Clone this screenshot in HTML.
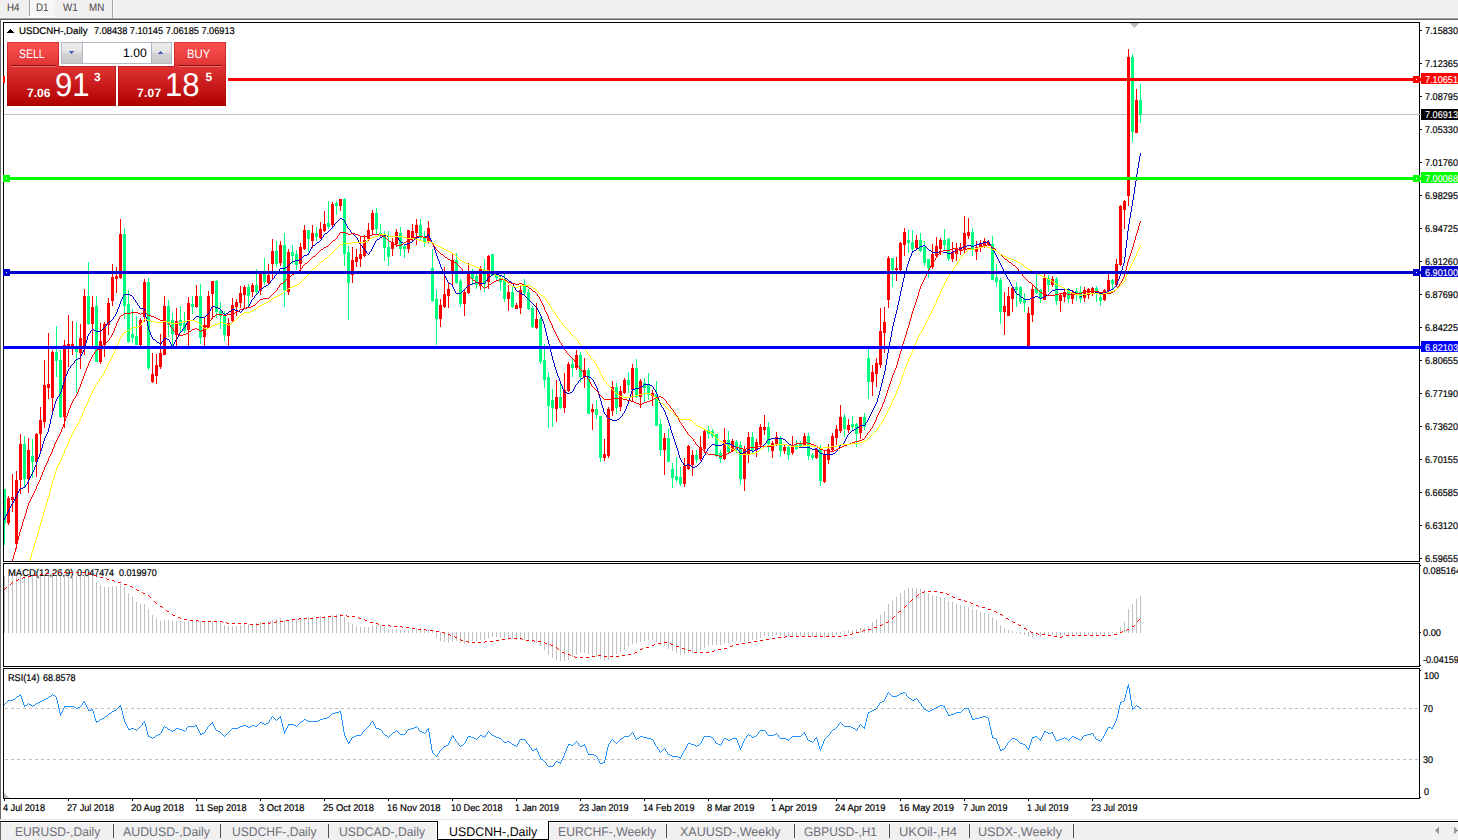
<!DOCTYPE html>
<html><head><meta charset="utf-8"><title>USDCNH-,Daily</title>
<style>
html,body{margin:0;padding:0}
body{width:1458px;height:840px;overflow:hidden;background:#fff;position:relative;font-family:"Liberation Sans",sans-serif}
.t{position:absolute;white-space:nowrap;line-height:13px;height:13px;font-family:"Liberation Sans",sans-serif;transform-origin:0 0;text-rendering:geometricPrecision}
.abs{position:absolute}
</style></head><body>

<div class="abs" style="left:0;top:0;width:1458px;height:17px;background:#f0f0f0"></div>
<div class="abs" style="left:0;top:17px;width:1458px;height:1px;background:#f6f6f6"></div>
<div class="abs" style="left:0;top:18px;width:1458px;height:1px;background:#a0a0a0"></div>
<div class="abs" style="left:0;top:19px;width:1458px;height:1px;background:#696969"></div>
<div class="abs" style="left:0;top:20px;width:1px;height:799px;background:#696969"></div>
<div class="abs" style="left:30px;top:0;width:24px;height:16px;background:repeating-conic-gradient(#fff 0% 25%,#f0f0f0 0% 50%) 0 0/2px 2px"></div>
<div class="abs" style="left:29px;top:16px;width:26px;height:1px;background:#fff"></div>
<div class="abs" style="left:29px;top:0;width:1px;height:16px;background:#a0a0a0"></div>
<div class="abs" style="left:112px;top:0;width:1px;height:18px;background:#a0a0a0"></div>
<div class="abs" style="left:113px;top:0;width:1px;height:17px;background:#fff"></div>
<div class="t" style="left:7px;top:1.5px;font-size:11px;color:#444;transform:scaleX(0.89)">H4</div>
<div class="t" style="left:36px;top:1.5px;font-size:11px;color:#444;transform:scaleX(0.89)">D1</div>
<div class="t" style="left:63px;top:1.5px;font-size:11px;color:#444;transform:scaleX(0.89)">W1</div>
<div class="t" style="left:89px;top:1.5px;font-size:11px;color:#444;transform:scaleX(0.89)">MN</div>

<div class="t" style="left:8px;top:567px;font-size:9.8px;color:#000;font-weight:400;-webkit-text-stroke:0.2px #000;transform:scaleX(0.9624);">MACD(12,26,9)</div>
<div class="t" style="left:77.2px;top:567px;font-size:9.8px;color:#000;font-weight:400;-webkit-text-stroke:0.2px #000;transform:scaleX(0.9052);">0.047474</div>
<div class="t" style="left:118.5px;top:567px;font-size:9.8px;color:#000;font-weight:400;-webkit-text-stroke:0.2px #000;transform:scaleX(0.9223);">0.019970</div>
<svg width="1458" height="840" viewBox="0 0 1458 840" shape-rendering="crispEdges" style="position:absolute;left:0;top:0">
<defs><clipPath id="cm"><rect x="4" y="23" width="1415" height="538"/></clipPath><clipPath id="cd"><rect x="4" y="564" width="1415" height="102"/></clipPath></defs>
<rect x="4" y="114" width="1415" height="1" fill="#c0c0c0"/>
<path d="M4 489h1v56h-1zM4 489h2v34h-2zM24 436h1v52h-1zM23 444h3v35h-3zM32 439h1v39h-1zM31 456h3v6h-3zM56 326h1v51h-1zM55 352h3v9h-3zM60 350h1v68h-1zM59 360h3v57h-3zM76 322h1v71h-1zM75 348h3v4h-3zM88 262h1v63h-1zM87 296h3v28h-3zM96 296h1v66h-1zM95 306h3v56h-3zM124 228h1v91h-1zM123 234h3v72h-3zM128 290h1v53h-1zM127 304h3v38h-3zM132 309h1v34h-1zM131 334h3v4h-3zM136 316h1v29h-1zM135 336h3v9h-3zM148 278h1v92h-1zM147 282h3v86h-3zM168 300h1v37h-1zM167 306h3v19h-3zM172 313h1v34h-1zM171 320h3v14h-3zM180 306h1v26h-1zM179 320h3v6h-3zM184 312h1v21h-1zM183 323h3v8h-3zM192 296h1v18h-1zM191 304h3v3h-3zM200 284h1v60h-1zM199 296h3v42h-3zM216 280h1v38h-1zM215 281h3v31h-3zM220 302h1v27h-1zM219 311h3v5h-3zM224 311h1v30h-1zM223 315h3v20h-3zM248 284h1v22h-1zM247 287h3v9h-3zM256 269h1v26h-1zM255 285h3v7h-3zM264 258h1v27h-1zM263 274h3v8h-3zM276 241h1v26h-1zM275 251h3v13h-3zM284 233h1v74h-1zM283 245h3v45h-3zM292 245h1v19h-1zM291 252h3v4h-3zM296 250h1v20h-1zM295 254h3v11h-3zM308 230h1v22h-1zM307 230h3v9h-3zM316 227h1v14h-1zM315 233h3v4h-3zM328 201h1v28h-1zM327 223h3v4h-3zM336 201h1v14h-1zM335 203h3v3h-3zM344 198h1v68h-1zM343 199h3v55h-3zM348 246h1v74h-1zM347 252h3v31h-3zM376 208h1v26h-1zM375 213h3v16h-3zM380 224h1v14h-1zM379 233h3v3h-3zM384 231h1v30h-1zM383 235h3v13h-3zM388 231h1v35h-1zM387 247h3v10h-3zM400 227h1v29h-1zM399 233h3v16h-3zM404 244h1v14h-1zM403 246h3v3h-3zM420 219h1v22h-1zM419 225h3v13h-3zM424 231h1v16h-1zM423 237h3v5h-3zM432 249h1v53h-1zM431 268h3v33h-3zM436 290h1v55h-1zM435 299h3v20h-3zM456 253h1v31h-1zM455 260h3v23h-3zM460 279h1v28h-1zM459 281h3v23h-3zM472 269h1v16h-1zM471 274h3v5h-3zM476 274h1v15h-1zM475 276h3v9h-3zM484 259h1v33h-1zM483 270h3v14h-3zM492 254h1v22h-1zM491 254h3v21h-3zM496 273h1v7h-1zM495 274h3v4h-3zM500 276h1v15h-1zM499 278h3v4h-3zM504 274h1v28h-1zM503 279h3v20h-3zM512 286h1v22h-1zM511 292h3v15h-3zM524 279h1v16h-1zM523 284h3v9h-3zM528 289h1v21h-1zM527 292h3v17h-3zM532 306h1v22h-1zM531 308h3v19h-3zM540 317h1v47h-1zM539 319h3v43h-3zM544 344h1v44h-1zM543 360h3v20h-3zM548 372h1v56h-1zM547 377h3v29h-3zM552 389h1v38h-1zM551 400h3v8h-3zM560 384h1v25h-1zM559 397h3v11h-3zM572 359h1v18h-1zM571 364h3v4h-3zM580 352h1v30h-1zM579 355h3v22h-3zM588 368h1v46h-1zM587 370h3v44h-3zM596 400h1v19h-1zM595 409h3v6h-3zM600 416h1v46h-1zM599 416h3v42h-3zM616 383h1v31h-1zM615 387h3v21h-3zM628 372h1v21h-1zM627 380h3v5h-3zM636 359h1v39h-1zM635 368h3v29h-3zM644 378h1v25h-1zM643 383h3v5h-3zM648 373h1v27h-1zM647 384h3v11h-3zM656 381h1v45h-1zM655 394h3v32h-3zM660 419h1v37h-1zM659 424h3v26h-3zM668 429h1v33h-1zM667 438h3v24h-3zM672 463h1v25h-1zM671 469h3v9h-3zM676 457h1v25h-1zM675 476h3v4h-3zM680 467h1v19h-1zM679 477h3v7h-3zM696 450h1v13h-1zM695 455h3v5h-3zM708 426h1v13h-1zM707 430h3v4h-3zM712 429h1v9h-1zM711 431h3v5h-3zM716 434h1v23h-1zM715 434h3v21h-3zM720 450h1v13h-1zM719 453h3v6h-3zM728 431h1v23h-1zM727 440h3v12h-3zM736 440h1v13h-1zM735 442h3v7h-3zM740 441h1v44h-1zM739 445h3v34h-3zM752 432h1v21h-1zM751 437h3v13h-3zM768 422h1v30h-1zM767 427h3v17h-3zM780 436h1v21h-1zM779 438h3v13h-3zM788 446h1v14h-1zM787 447h3v8h-3zM796 440h1v10h-1zM795 445h3v4h-3zM800 441h1v7h-1zM799 444h3v3h-3zM808 433h1v27h-1zM807 436h3v20h-3zM812 453h1v7h-1zM811 455h3v3h-3zM820 445h1v41h-1zM819 448h3v33h-3zM844 414h1v23h-1zM843 417h3v12h-3zM852 416h1v14h-1zM851 424h3v3h-3zM856 423h1v24h-1zM855 424h3v10h-3zM864 413h1v17h-1zM863 417h3v10h-3zM868 349h1v50h-1zM867 358h3v24h-3zM892 258h1v29h-1zM891 258h3v12h-3zM908 230h1v23h-1zM907 240h3v3h-3zM912 230h1v21h-1zM911 242h3v7h-3zM920 233h1v19h-1zM919 240h3v11h-3zM924 241h1v25h-1zM923 247h3v16h-3zM928 259h1v19h-1zM927 259h3v9h-3zM944 229h1v22h-1zM943 240h3v5h-3zM948 238h1v23h-1zM947 239h3v20h-3zM972 228h1v28h-1zM971 232h3v18h-3zM992 236h1v44h-1zM991 244h3v36h-3zM996 264h1v23h-1zM995 277h3v5h-3zM1000 278h1v46h-1zM999 280h3v32h-3zM1016 282h1v25h-1zM1015 287h3v3h-3zM1020 286h1v18h-1zM1019 287h3v15h-3zM1024 293h1v19h-1zM1023 299h3v4h-3zM1036 274h1v20h-1zM1035 288h3v5h-3zM1040 289h1v14h-1zM1039 290h3v9h-3zM1048 275h1v17h-1zM1047 278h3v7h-3zM1056 277h1v28h-1zM1055 279h3v22h-3zM1068 288h1v15h-1zM1067 290h3v9h-3zM1076 288h1v13h-1zM1075 291h3v4h-3zM1080 286h1v17h-1zM1079 292h3v7h-3zM1096 286h1v16h-1zM1095 288h3v6h-3zM1100 294h1v12h-1zM1099 297h3v4h-3zM1112 279h1v10h-1zM1111 280h3v4h-3zM1132 54h1v88h-1zM1131 57h3v75h-3zM1140 84h1v39h-1zM1139 100h3v15h-3z" fill="#00ff7f"/>
<path d="M8 496h1v29h-1zM7 498h3v25h-3zM12 474h1v38h-1zM11 497h3v3h-3zM16 471h1v78h-1zM15 480h3v64h-3zM20 434h1v60h-1zM19 444h3v36h-3zM28 438h1v55h-1zM27 450h3v29h-3zM36 433h1v44h-1zM35 434h3v28h-3zM40 407h1v46h-1zM39 420h3v14h-3zM44 360h1v68h-1zM43 385h3v37h-3zM48 333h1v66h-1zM47 384h3v4h-3zM52 350h1v61h-1zM51 352h3v46h-3zM64 340h1v88h-1zM63 345h3v72h-3zM68 315h1v52h-1zM67 344h3v5h-3zM72 321h1v34h-1zM71 344h3v5h-3zM80 324h1v45h-1zM79 338h3v15h-3zM84 289h1v66h-1zM83 296h3v53h-3zM92 296h1v51h-1zM91 307h3v17h-3zM100 323h1v41h-1zM99 341h3v21h-3zM104 322h1v35h-1zM103 324h3v21h-3zM108 298h1v37h-1zM107 303h3v22h-3zM112 264h1v42h-1zM111 277h3v24h-3zM116 267h1v26h-1zM115 276h3v3h-3zM120 219h1v60h-1zM119 234h3v44h-3zM140 318h1v28h-1zM139 320h3v25h-3zM144 279h1v43h-1zM143 282h3v35h-3zM152 353h1v30h-1zM151 374h3v8h-3zM156 354h1v30h-1zM155 365h3v11h-3zM160 334h1v35h-1zM159 353h3v14h-3zM164 296h1v59h-1zM163 306h3v49h-3zM176 308h1v39h-1zM175 321h3v14h-3zM188 297h1v49h-1zM187 303h3v27h-3zM196 285h1v23h-1zM195 296h3v11h-3zM204 318h1v29h-1zM203 325h3v12h-3zM208 291h1v38h-1zM207 296h3v32h-3zM212 281h1v38h-1zM211 281h3v13h-3zM228 318h1v29h-1zM227 323h3v13h-3zM232 298h1v25h-1zM231 305h3v16h-3zM236 299h1v17h-1zM235 302h3v5h-3zM240 286h1v22h-1zM239 293h3v10h-3zM244 285h1v23h-1zM243 287h3v8h-3zM252 283h1v14h-1zM251 285h3v7h-3zM260 272h1v23h-1zM259 273h3v18h-3zM268 264h1v21h-1zM267 275h3v8h-3zM272 239h1v41h-1zM271 251h3v13h-3zM280 241h1v25h-1zM279 245h3v18h-3zM288 249h1v46h-1zM287 252h3v40h-3zM300 243h1v28h-1zM299 247h3v17h-3zM304 225h1v25h-1zM303 230h3v19h-3zM312 225h1v23h-1zM311 233h3v8h-3zM320 222h1v17h-1zM319 229h3v9h-3zM324 211h1v21h-1zM323 224h3v7h-3zM332 202h1v25h-1zM331 204h3v21h-3zM340 199h1v12h-1zM339 199h3v7h-3zM352 247h1v36h-1zM351 260h3v15h-3zM356 249h1v18h-1zM355 257h3v5h-3zM360 237h1v30h-1zM359 254h3v5h-3zM364 235h1v22h-1zM363 240h3v16h-3zM368 223h1v18h-1zM367 230h3v9h-3zM372 210h1v24h-1zM371 213h3v17h-3zM392 238h1v18h-1zM391 242h3v7h-3zM396 229h1v18h-1zM395 232h3v12h-3zM408 230h1v23h-1zM407 230h3v19h-3zM412 224h1v17h-1zM411 231h3v7h-3zM416 219h1v26h-1zM415 225h3v8h-3zM428 221h1v22h-1zM427 228h3v14h-3zM440 299h1v28h-1zM439 305h3v14h-3zM444 267h1v41h-1zM443 294h3v13h-3zM448 283h1v25h-1zM447 289h3v7h-3zM452 254h1v31h-1zM451 260h3v13h-3zM464 290h1v26h-1zM463 292h3v12h-3zM468 263h1v31h-1zM467 274h3v19h-3zM480 266h1v24h-1zM479 269h3v17h-3zM488 255h1v34h-1zM487 256h3v26h-3zM508 285h1v26h-1zM507 292h3v7h-3zM516 303h1v6h-1zM515 305h3v4h-3zM520 285h1v29h-1zM519 290h3v18h-3zM536 303h1v26h-1zM535 319h3v9h-3zM556 380h1v42h-1zM555 397h3v12h-3zM564 373h1v40h-1zM563 390h3v18h-3zM568 362h1v30h-1zM567 364h3v27h-3zM576 350h1v20h-1zM575 355h3v13h-3zM584 358h1v30h-1zM583 370h3v7h-3zM592 404h1v26h-1zM591 409h3v3h-3zM604 439h1v22h-1zM603 454h3v4h-3zM608 407h1v51h-1zM607 409h3v47h-3zM612 381h1v35h-1zM611 387h3v24h-3zM620 386h1v25h-1zM619 391h3v16h-3zM624 378h1v16h-1zM623 380h3v13h-3zM632 364h1v38h-1zM631 368h3v22h-3zM640 379h1v29h-1zM639 381h3v16h-3zM652 390h1v16h-1zM651 393h3v3h-3zM664 433h1v42h-1zM663 438h3v12h-3zM684 458h1v29h-1zM683 466h3v18h-3zM688 445h1v25h-1zM687 446h3v23h-3zM692 450h1v26h-1zM691 455h3v10h-3zM700 436h1v25h-1zM699 447h3v12h-3zM704 429h1v24h-1zM703 431h3v18h-3zM724 428h1v32h-1zM723 440h3v19h-3zM732 439h1v13h-1zM731 441h3v10h-3zM744 446h1v45h-1zM743 450h3v29h-3zM748 432h1v31h-1zM747 437h3v17h-3zM756 439h1v18h-1zM755 442h3v8h-3zM760 424h1v23h-1zM759 427h3v18h-3zM764 415h1v20h-1zM763 427h3v3h-3zM772 441h1v17h-1zM771 443h3v8h-3zM776 432h1v14h-1zM775 437h3v8h-3zM784 444h1v10h-1zM783 447h3v4h-3zM792 436h1v19h-1zM791 446h3v7h-3zM804 433h1v13h-1zM803 436h3v9h-3zM816 448h1v11h-1zM815 449h3v9h-3zM824 450h1v33h-1zM823 455h3v27h-3zM828 444h1v20h-1zM827 449h3v11h-3zM832 433h1v19h-1zM831 436h3v14h-3zM836 425h1v20h-1zM835 429h3v9h-3zM840 405h1v28h-1zM839 417h3v14h-3zM848 419h1v14h-1zM847 425h3v5h-3zM860 417h1v22h-1zM859 417h3v16h-3zM872 365h1v31h-1zM871 372h3v10h-3zM876 358h1v29h-1zM875 363h3v11h-3zM880 308h1v60h-1zM879 331h3v34h-3zM884 307h1v46h-1zM883 322h3v11h-3zM888 256h1v52h-1zM887 258h3v42h-3zM896 257h1v24h-1zM895 268h3v2h-3zM900 242h1v29h-1zM899 243h3v27h-3zM904 228h1v28h-1zM903 232h3v13h-3zM916 235h1v15h-1zM915 240h3v8h-3zM932 244h1v25h-1zM931 254h3v13h-3zM936 237h1v21h-1zM935 246h3v10h-3zM940 238h1v17h-1zM939 240h3v9h-3zM952 242h1v20h-1zM951 252h3v7h-3zM956 243h1v18h-1zM955 248h3v6h-3zM960 243h1v12h-1zM959 247h3v4h-3zM964 216h1v38h-1zM963 233h3v16h-3zM968 218h1v21h-1zM967 232h3v4h-3zM976 241h1v19h-1zM975 247h3v5h-3zM980 240h1v12h-1zM979 243h3v4h-3zM984 238h1v10h-1zM983 241h3v6h-3zM988 240h1v6h-1zM987 242h3v3h-3zM1004 292h1v43h-1zM1003 306h3v6h-3zM1008 287h1v29h-1zM1007 296h3v20h-3zM1012 286h1v26h-1zM1011 288h3v11h-3zM1028 307h1v41h-1zM1027 313h3v34h-3zM1032 285h1v37h-1zM1031 289h3v26h-3zM1044 274h1v26h-1zM1043 278h3v22h-3zM1052 276h1v11h-1zM1051 279h3v6h-3zM1060 294h1v18h-1zM1059 295h3v6h-3zM1064 288h1v14h-1zM1063 292h3v5h-3zM1072 290h1v14h-1zM1071 292h3v7h-3zM1084 287h1v15h-1zM1083 290h3v8h-3zM1088 288h1v11h-1zM1087 289h3v6h-3zM1092 287h1v9h-1zM1091 288h3v5h-3zM1104 289h1v12h-1zM1103 290h3v10h-3zM1108 274h1v19h-1zM1107 280h3v11h-3zM1116 259h1v28h-1zM1115 264h3v21h-3zM1120 205h1v61h-1zM1119 206h3v59h-3zM1124 200h1v29h-1zM1123 201h3v9h-3zM1128 49h1v157h-1zM1127 57h3v139h-3zM1136 89h1v44h-1zM1135 100h3v33h-3z" fill="#ff0000"/>
<path d="M4 518h1v2h-1zM5 516h1v2h-1zM6 514h1v2h-1zM7 512h1v2h-1zM8 510h1v2h-1zM9 508h1v2h-1zM10 506h1v2h-1zM11 504h1v2h-1zM12 503h1v1h-1zM13 501h1v2h-1zM14 499h1v2h-1zM15 497h1v2h-1zM16 495h1v2h-1zM17 493h1v2h-1zM18 491h1v2h-1zM19 489h1v2h-1zM20 488h3v1h-3zM23 487h2v1h-2zM25 485h1v2h-1zM26 484h1v1h-1zM27 482h1v2h-1zM28 480h1v2h-1zM29 478h1v2h-1zM30 476h1v2h-1zM31 474h1v2h-1zM32 472h1v2h-1zM33 470h1v2h-1zM34 467h1v3h-1zM35 465h1v2h-1zM36 462h1v3h-1zM37 459h1v3h-1zM38 457h1v2h-1zM39 454h1v3h-1zM40 451h1v3h-1zM41 448h1v3h-1zM42 444h1v4h-1zM43 441h1v3h-1zM44 438h1v3h-1zM45 436h1v2h-1zM46 434h1v2h-1zM47 432h1v2h-1zM48 428h1v4h-1zM49 424h1v4h-1zM50 419h1v5h-1zM51 415h1v4h-1zM52 411h1v4h-1zM53 408h1v3h-1zM54 404h1v4h-1zM55 401h1v3h-1zM56 399h1v2h-1zM57 397h1v2h-1zM58 396h1v1h-1zM59 394h1v2h-1zM60 392h1v2h-1zM61 389h1v3h-1zM62 385h1v4h-1zM63 382h1v3h-1zM64 379h1v3h-1zM65 376h1v3h-1zM66 374h1v2h-1zM67 371h1v3h-1zM68 369h1v2h-1zM69 368h1v1h-1zM70 366h1v2h-1zM71 365h1v1h-1zM72 364h1v1h-1zM73 363h1v1h-1zM74 361h1v2h-1zM75 360h1v1h-1zM76 359h2v1h-2zM78 358h2v1h-2zM80 356h1v2h-1zM81 354h1v2h-1zM82 352h1v2h-1zM83 350h1v2h-1zM84 347h1v3h-1zM85 343h1v4h-1zM86 340h1v3h-1zM87 336h1v4h-1zM88 334h1v2h-1zM89 333h1v1h-1zM90 331h1v2h-1zM91 330h1v1h-1zM92 329h2v1h-2zM94 330h2v1h-2zM96 331h5v1h-5zM101 330h1v1h-1zM102 329h1v1h-1zM103 328h1v1h-1zM104 327h1v1h-1zM105 326h1v1h-1zM106 324h1v2h-1zM107 323h1v1h-1zM108 322h1v1h-1zM109 321h2v1h-2zM111 320h1v1h-1zM112 319h1v1h-1zM113 317h1v2h-1zM114 316h1v1h-1zM115 314h1v2h-1zM116 312h1v2h-1zM117 309h1v3h-1zM118 307h1v2h-1zM119 304h1v3h-1zM120 301h1v3h-1zM121 299h1v2h-1zM122 297h1v2h-1zM123 295h1v2h-1zM124 294h6v1h-6zM130 295h2v1h-2zM132 296h1v1h-1zM133 297h1v2h-1zM134 299h1v1h-1zM135 300h1v2h-1zM136 302h1v1h-1zM137 303h1v2h-1zM138 305h1v1h-1zM139 306h1v2h-1zM140 308h3v1h-3zM143 309h2v1h-2zM144 310h1v2h-1zM145 312h1v5h-1zM146 317h1v4h-1zM147 321h1v5h-1zM148 326h1v4h-1zM149 330h1v2h-1zM150 332h1v3h-1zM151 335h1v2h-1zM152 337h1v2h-1zM153 339h2v1h-2zM155 340h1v1h-1zM156 341h1v1h-1zM157 342h2v1h-2zM159 343h1v1h-1zM160 344h1v1h-1zM161 342h1v2h-1zM162 341h1v1h-1zM163 339h1v2h-1zM164 338h3v1h-3zM167 339h2v1h-2zM169 340h1v2h-1zM170 342h1v2h-1zM171 344h1v2h-1zM172 346h1v1h-1zM173 344h1v2h-1zM174 342h1v2h-1zM175 340h1v2h-1zM176 339h1v1h-1zM177 337h1v2h-1zM178 335h1v2h-1zM179 333h1v2h-1zM180 332h1v1h-1zM181 331h1v1h-1zM182 329h1v2h-1zM183 328h1v1h-1zM184 327h1v1h-1zM185 325h1v2h-1zM186 323h1v2h-1zM187 321h1v2h-1zM188 320h5v1h-5zM193 319h1v1h-1zM194 318h1v1h-1zM195 317h1v1h-1zM196 316h3v1h-3zM199 317h6v1h-6zM205 316h1v1h-1zM206 315h1v1h-1zM207 314h1v1h-1zM208 313h1v1h-1zM209 311h1v2h-1zM210 309h1v2h-1zM211 307h1v2h-1zM212 306h3v1h-3zM215 307h3v1h-3zM218 308h2v1h-2zM220 309h1v1h-1zM221 310h1v1h-1zM222 311h1v2h-1zM223 313h1v1h-1zM224 314h2v1h-2zM226 313h2v1h-2zM228 312h1v1h-1zM229 311h2v1h-2zM231 310h1v1h-1zM232 309h3v1h-3zM235 310h3v1h-3zM238 311h2v1h-2zM240 312h1v1h-1zM241 311h1v1h-1zM242 310h1v1h-1zM243 309h1v1h-1zM244 308h2v1h-2zM246 307h2v1h-2zM248 306h1v1h-1zM249 304h1v2h-1zM250 302h1v2h-1zM251 300h1v2h-1zM252 299h1v1h-1zM253 298h1v1h-1zM254 296h1v2h-1zM255 295h1v1h-1zM256 294h1v1h-1zM257 293h1v1h-1zM258 291h1v2h-1zM259 290h1v1h-1zM260 289h1v1h-1zM261 288h2v1h-2zM263 287h1v1h-1zM264 286h2v1h-2zM266 285h2v1h-2zM268 284h1v1h-1zM269 283h1v1h-1zM270 281h1v2h-1zM271 280h1v1h-1zM272 279h1v1h-1zM273 278h1v1h-1zM274 276h1v2h-1zM275 275h1v1h-1zM276 274h1v1h-1zM277 272h1v2h-1zM278 271h1v1h-1zM279 269h1v2h-1zM280 268h5v1h-5zM285 267h2v1h-2zM287 266h1v1h-1zM288 265h1v1h-1zM289 264h1v1h-1zM290 263h1v1h-1zM291 262h1v1h-1zM292 261h3v1h-3zM295 260h4v1h-4zM299 259h2v1h-2zM301 258h1v1h-1zM302 257h1v1h-1zM303 256h1v1h-1zM304 255h3v1h-3zM307 254h2v1h-2zM308 253h1v1h-1zM309 251h1v2h-1zM310 249h1v2h-1zM311 247h1v2h-1zM312 246h1v1h-1zM313 245h2v1h-2zM315 244h1v1h-1zM316 243h1v1h-1zM317 242h2v1h-2zM319 241h1v1h-1zM320 240h1v1h-1zM321 238h1v2h-1zM322 237h1v1h-1zM323 235h1v2h-1zM324 234h1v1h-1zM325 233h2v1h-2zM327 232h1v1h-1zM328 231h1v1h-1zM329 230h1v1h-1zM330 229h1v1h-1zM331 228h1v1h-1zM332 227h1v1h-1zM333 226h1v1h-1zM334 224h1v2h-1zM335 223h1v1h-1zM336 222h1v1h-1zM337 221h1v1h-1zM338 220h1v1h-1zM339 219h1v1h-1zM340 218h2v1h-2zM342 219h2v1h-2zM344 220h1v2h-1zM345 222h1v2h-1zM346 224h1v2h-1zM347 226h1v2h-1zM348 228h1v1h-1zM349 229h1v1h-1zM350 230h1v2h-1zM351 232h1v1h-1zM352 233h1v1h-1zM353 234h1v1h-1zM354 235h1v1h-1zM355 236h1v1h-1zM356 237h1v1h-1zM357 238h1v2h-1zM358 240h1v2h-1zM359 242h1v2h-1zM360 244h1v1h-1zM361 245h1v1h-1zM362 246h1v2h-1zM363 248h1v1h-1zM364 249h1v1h-1zM365 250h1v1h-1zM366 251h1v2h-1zM367 253h1v1h-1zM368 254h1v1h-1zM369 252h1v2h-1zM370 251h1v1h-1zM371 249h1v2h-1zM372 247h1v2h-1zM373 245h1v2h-1zM374 243h1v2h-1zM375 241h1v2h-1zM376 240h1v1h-1zM377 239h2v1h-2zM379 238h1v1h-1zM380 237h2v1h-2zM382 236h2v1h-2zM384 235h3v1h-3zM387 236h10v1h-10zM397 237h1v1h-1zM398 238h1v2h-1zM399 240h1v1h-1zM400 241h1v1h-1zM401 242h2v1h-2zM403 243h1v1h-1zM404 244h3v1h-3zM407 243h3v1h-3zM410 242h2v1h-2zM412 241h1v1h-1zM413 240h1v1h-1zM414 239h1v1h-1zM415 238h1v1h-1zM416 237h3v1h-3zM419 236h4v1h-4zM423 237h2v1h-2zM425 236h2v1h-2zM427 235h2v1h-2zM428 234h1v1h-1zM429 236h1v2h-1zM430 238h1v2h-1zM431 240h1v2h-1zM432 242h1v2h-1zM433 244h1v3h-1zM434 247h1v3h-1zM435 250h1v3h-1zM436 253h1v3h-1zM437 256h1v3h-1zM438 259h1v2h-1zM439 261h1v3h-1zM440 264h1v3h-1zM441 267h1v2h-1zM442 269h1v3h-1zM443 272h1v2h-1zM444 274h1v2h-1zM445 276h1v2h-1zM446 278h1v2h-1zM447 280h1v2h-1zM448 282h1v1h-1zM449 283h2v1h-2zM451 284h1v1h-1zM452 285h1v2h-1zM453 287h1v2h-1zM454 289h1v2h-1zM455 291h1v2h-1zM456 293h5v1h-5zM461 292h1v1h-1zM462 291h1v1h-1zM463 290h1v1h-1zM464 289h1v1h-1zM465 288h1v1h-1zM466 287h1v1h-1zM467 286h1v1h-1zM468 285h2v1h-2zM470 284h2v1h-2zM472 283h3v1h-3zM475 282h4v1h-4zM479 283h6v1h-6zM485 281h1v2h-1zM486 280h1v1h-1zM487 278h1v2h-1zM488 277h1v1h-1zM489 276h2v1h-2zM491 275h1v1h-1zM492 274h7v1h-7zM499 275h3v1h-3zM502 276h2v1h-2zM504 277h1v1h-1zM505 278h2v1h-2zM507 279h1v1h-1zM508 280h1v1h-1zM509 281h2v1h-2zM511 282h1v1h-1zM512 283h1v1h-1zM513 284h1v2h-1zM514 286h1v2h-1zM515 288h1v2h-1zM516 290h1v1h-1zM517 291h2v1h-2zM519 292h1v1h-1zM520 293h2v1h-2zM522 294h2v1h-2zM524 295h1v1h-1zM525 296h1v1h-1zM526 297h1v1h-1zM527 298h1v1h-1zM528 299h1v1h-1zM529 300h1v1h-1zM530 301h1v1h-1zM531 302h1v1h-1zM532 303h1v1h-1zM533 304h1v1h-1zM534 305h1v1h-1zM535 306h1v1h-1zM536 307h1v1h-1zM537 308h1v2h-1zM538 310h1v2h-1zM539 312h1v2h-1zM540 314h1v2h-1zM541 316h1v3h-1zM542 319h1v2h-1zM543 321h1v3h-1zM544 324h1v4h-1zM545 328h1v4h-1zM546 332h1v4h-1zM547 336h1v4h-1zM548 340h1v4h-1zM549 344h1v4h-1zM550 348h1v4h-1zM551 352h1v4h-1zM552 356h1v4h-1zM553 360h1v3h-1zM554 363h1v4h-1zM555 367h1v3h-1zM556 370h1v3h-1zM557 373h1v3h-1zM558 376h1v2h-1zM559 378h1v3h-1zM560 381h1v3h-1zM561 384h1v2h-1zM562 386h1v3h-1zM563 389h1v2h-1zM564 391h1v1h-1zM564 392h3v1h-3zM567 393h3v1h-3zM570 392h2v1h-2zM572 391h1v1h-1zM573 389h1v2h-1zM574 387h1v2h-1zM575 385h1v2h-1zM576 384h1v1h-1zM577 383h1v1h-1zM578 381h1v2h-1zM579 380h1v1h-1zM580 379h1v1h-1zM581 378h2v1h-2zM583 377h1v1h-1zM584 376h5v1h-5zM589 377h2v1h-2zM591 378h1v1h-1zM592 379h1v1h-1zM593 380h1v2h-1zM594 382h1v2h-1zM595 384h1v2h-1zM596 386h1v2h-1zM597 388h1v3h-1zM598 391h1v4h-1zM599 395h1v3h-1zM600 398h1v3h-1zM601 401h1v4h-1zM602 405h1v3h-1zM603 408h1v4h-1zM604 412h1v2h-1zM605 414h1v1h-1zM606 415h1v2h-1zM607 417h1v1h-1zM608 418h2v1h-2zM610 419h2v1h-2zM612 420h5v1h-5zM617 419h2v1h-2zM619 418h1v1h-1zM620 417h1v1h-1zM621 416h1v1h-1zM622 414h1v2h-1zM623 413h1v1h-1zM624 411h1v2h-1zM625 409h1v2h-1zM626 406h1v3h-1zM627 404h1v2h-1zM628 401h1v3h-1zM629 398h1v3h-1zM630 394h1v4h-1zM631 391h1v3h-1zM632 390h1v1h-1zM632 389h3v1h-3zM635 388h4v1h-4zM639 387h2v1h-2zM641 386h2v1h-2zM643 385h1v1h-1zM644 384h6v1h-6zM650 385h2v1h-2zM652 386h1v1h-1zM653 387h1v2h-1zM654 389h1v1h-1zM655 390h1v2h-1zM656 392h1v2h-1zM657 394h1v3h-1zM658 397h1v3h-1zM659 400h1v3h-1zM660 403h1v2h-1zM661 405h1v2h-1zM662 407h1v1h-1zM663 408h1v2h-1zM664 410h1v2h-1zM665 412h1v3h-1zM666 415h1v2h-1zM667 417h1v3h-1zM668 420h1v3h-1zM669 423h1v3h-1zM670 426h1v4h-1zM671 430h1v3h-1zM672 433h1v3h-1zM673 436h1v3h-1zM674 439h1v3h-1zM675 442h1v3h-1zM676 445h1v3h-1zM677 448h1v3h-1zM678 451h1v4h-1zM679 455h1v3h-1zM680 458h1v2h-1zM681 460h1v2h-1zM682 462h1v1h-1zM683 463h1v2h-1zM684 465h3v1h-3zM687 464h2v1h-2zM689 465h2v1h-2zM691 466h1v1h-1zM692 467h3v1h-3zM695 466h2v1h-2zM697 465h1v1h-1zM698 464h1v1h-1zM699 463h1v1h-1zM700 462h1v1h-1zM701 460h1v2h-1zM702 458h1v2h-1zM703 456h1v2h-1zM704 455h1v1h-1zM705 453h1v2h-1zM706 451h1v2h-1zM707 449h1v2h-1zM708 448h1v1h-1zM709 447h1v1h-1zM710 446h1v1h-1zM711 445h1v1h-1zM712 444h3v1h-3zM715 445h7v1h-7zM722 444h2v1h-2zM724 443h6v1h-6zM730 444h2v1h-2zM732 445h2v1h-2zM734 446h2v1h-2zM736 447h1v1h-1zM737 448h1v2h-1zM738 450h1v1h-1zM739 451h1v2h-1zM740 453h3v1h-3zM743 452h2v1h-2zM745 451h2v1h-2zM747 450h1v1h-1zM748 449h2v1h-2zM750 450h2v1h-2zM752 451h2v1h-2zM754 450h2v1h-2zM756 449h2v1h-2zM758 448h2v1h-2zM760 447h1v1h-1zM761 446h2v1h-2zM763 445h1v1h-1zM764 444h1v1h-1zM765 443h1v1h-1zM766 441h1v2h-1zM767 440h1v1h-1zM768 439h3v1h-3zM771 438h12v1h-12zM783 439h2v1h-2zM785 440h1v1h-1zM786 441h1v1h-1zM787 442h1v1h-1zM788 443h1v1h-1zM789 444h2v1h-2zM791 445h1v1h-1zM792 446h7v1h-7zM799 447h11v1h-11zM810 448h2v1h-2zM812 449h3v1h-3zM815 448h2v1h-2zM817 449h1v1h-1zM818 450h1v2h-1zM819 452h1v1h-1zM820 453h3v1h-3zM823 454h10v1h-10zM833 453h2v1h-2zM835 452h1v1h-1zM836 451h1v1h-1zM837 449h1v2h-1zM838 448h1v1h-1zM839 446h1v2h-1zM840 445h1v1h-1zM841 444h2v1h-2zM843 443h1v1h-1zM844 441h1v2h-1zM845 439h1v2h-1zM846 437h1v2h-1zM847 435h1v2h-1zM848 434h1v1h-1zM849 433h1v1h-1zM850 432h1v1h-1zM851 431h1v1h-1zM852 430h2v1h-2zM854 429h2v1h-2zM856 428h1v1h-1zM857 427h2v1h-2zM859 426h1v1h-1zM860 425h5v1h-5zM865 423h1v2h-1zM866 422h1v1h-1zM867 420h1v2h-1zM868 418h1v2h-1zM869 416h1v2h-1zM870 414h1v2h-1zM871 412h1v2h-1zM872 410h1v2h-1zM873 408h1v2h-1zM874 406h1v2h-1zM875 404h1v2h-1zM876 402h1v2h-1zM877 398h1v4h-1zM878 395h1v3h-1zM879 391h1v4h-1zM880 387h1v4h-1zM881 383h1v4h-1zM882 379h1v4h-1zM883 375h1v4h-1zM884 371h1v4h-1zM885 365h1v6h-1zM886 359h1v6h-1zM887 353h1v6h-1zM888 348h1v5h-1zM889 342h1v6h-1zM890 337h1v5h-1zM891 331h1v6h-1zM892 326h1v5h-1zM893 322h1v4h-1zM894 318h1v4h-1zM895 314h1v4h-1zM896 310h1v4h-1zM897 305h1v5h-1zM898 301h1v4h-1zM899 296h1v5h-1zM900 291h1v5h-1zM901 287h1v4h-1zM902 282h1v5h-1zM903 278h1v4h-1zM904 274h1v4h-1zM905 271h1v3h-1zM906 267h1v4h-1zM907 264h1v3h-1zM908 261h1v3h-1zM909 258h1v3h-1zM910 256h1v2h-1zM911 253h1v3h-1zM912 252h1v1h-1zM912 251h2v1h-2zM914 250h2v1h-2zM916 249h1v1h-1zM917 248h2v1h-2zM919 247h1v1h-1zM920 246h3v1h-3zM923 245h2v1h-2zM925 246h1v1h-1zM926 247h1v1h-1zM927 248h1v1h-1zM928 249h1v1h-1zM929 250h2v1h-2zM931 251h1v1h-1zM932 252h7v1h-7zM939 251h4v1h-4zM943 252h4v1h-4zM947 253h4v1h-4zM951 252h2v1h-2zM953 251h2v1h-2zM955 250h1v1h-1zM956 249h3v1h-3zM959 248h3v1h-3zM962 247h2v1h-2zM964 246h3v1h-3zM967 245h4v1h-4zM971 246h3v1h-3zM974 245h2v1h-2zM976 244h3v1h-3zM979 243h4v1h-4zM983 242h4v1h-4zM987 241h2v1h-2zM989 242h1v2h-1zM990 244h1v2h-1zM991 246h1v2h-1zM992 248h1v1h-1zM993 249h1v2h-1zM994 251h1v2h-1zM995 253h1v2h-1zM996 255h1v2h-1zM997 257h1v2h-1zM998 259h1v2h-1zM999 261h1v2h-1zM1000 263h1v2h-1zM1001 265h1v2h-1zM1002 267h1v2h-1zM1003 269h1v2h-1zM1004 271h1v2h-1zM1005 273h1v2h-1zM1006 275h1v2h-1zM1007 277h1v2h-1zM1008 279h1v1h-1zM1009 280h1v2h-1zM1010 282h1v2h-1zM1011 284h1v2h-1zM1012 286h1v1h-1zM1013 287h1v2h-1zM1014 289h1v2h-1zM1015 291h1v2h-1zM1016 293h1v1h-1zM1017 294h2v1h-2zM1019 295h1v1h-1zM1020 296h1v1h-1zM1021 297h2v1h-2zM1023 298h1v1h-1zM1024 299h6v1h-6zM1030 298h2v1h-2zM1032 297h3v1h-3zM1035 296h3v1h-3zM1038 297h2v1h-2zM1040 298h2v1h-2zM1042 297h2v1h-2zM1044 296h2v1h-2zM1046 295h2v1h-2zM1048 294h1v1h-1zM1049 293h1v1h-1zM1050 292h1v1h-1zM1051 291h1v1h-1zM1052 290h3v1h-3zM1055 289h15v1h-15zM1070 290h2v1h-2zM1072 291h2v1h-2zM1074 292h2v1h-2zM1076 293h1v1h-1zM1077 294h2v1h-2zM1079 295h1v1h-1zM1080 296h2v1h-2zM1082 295h2v1h-2zM1084 294h3v1h-3zM1087 293h8v1h-8zM1095 292h4v1h-4zM1099 293h6v1h-6zM1105 292h2v1h-2zM1107 291h1v1h-1zM1108 290h3v1h-3zM1111 289h2v1h-2zM1113 288h1v1h-1zM1114 287h1v1h-1zM1115 286h1v1h-1zM1116 284h1v2h-1zM1117 281h1v3h-1zM1118 279h1v2h-1zM1119 276h1v3h-1zM1120 273h1v3h-1zM1121 270h1v3h-1zM1122 266h1v4h-1zM1123 263h1v3h-1zM1124 257h1v6h-1zM1125 248h1v9h-1zM1126 240h1v8h-1zM1127 231h1v9h-1zM1128 224h1v7h-1zM1129 218h1v6h-1zM1130 212h1v6h-1zM1131 206h1v6h-1zM1132 200h1v6h-1zM1133 194h1v6h-1zM1134 187h1v7h-1zM1135 181h1v6h-1zM1136 174h1v7h-1zM1137 168h1v6h-1zM1138 162h1v6h-1zM1139 156h1v6h-1zM1140 153h1v3h-1z" fill="#0000cd"/>
<path d="M12 559h1v2h-1zM13 555h1v4h-1zM14 552h1v3h-1zM15 548h1v4h-1zM16 544h1v4h-1zM17 540h1v4h-1zM18 536h1v4h-1zM19 532h1v4h-1zM20 529h1v3h-1zM21 526h1v3h-1zM22 522h1v4h-1zM23 519h1v3h-1zM24 516h1v3h-1zM25 513h1v3h-1zM26 509h1v4h-1zM27 506h1v3h-1zM28 503h1v3h-1zM29 501h1v2h-1zM30 499h1v2h-1zM31 497h1v2h-1zM32 495h1v2h-1zM33 493h1v2h-1zM34 491h1v2h-1zM35 489h1v2h-1zM36 486h1v3h-1zM37 484h1v2h-1zM38 482h1v2h-1zM39 480h1v2h-1zM40 477h1v3h-1zM41 475h1v2h-1zM42 472h1v3h-1zM43 470h1v2h-1zM44 467h1v3h-1zM45 465h1v2h-1zM46 463h1v2h-1zM47 461h1v2h-1zM48 458h1v3h-1zM49 456h1v2h-1zM50 454h1v2h-1zM51 452h1v2h-1zM52 449h1v3h-1zM53 447h1v2h-1zM54 444h1v3h-1zM55 442h1v2h-1zM56 440h1v2h-1zM57 438h1v2h-1zM58 436h1v2h-1zM59 434h1v2h-1zM60 432h1v2h-1zM61 429h1v3h-1zM62 427h1v2h-1zM63 424h1v3h-1zM64 421h1v3h-1zM65 418h1v3h-1zM66 416h1v2h-1zM67 413h1v3h-1zM68 410h1v3h-1zM69 408h1v2h-1zM70 405h1v3h-1zM71 403h1v2h-1zM72 401h1v2h-1zM73 399h1v2h-1zM74 398h1v1h-1zM75 396h1v2h-1zM76 394h1v2h-1zM77 392h1v2h-1zM78 389h1v3h-1zM79 387h1v2h-1zM80 384h1v3h-1zM81 381h1v3h-1zM82 379h1v2h-1zM83 376h1v3h-1zM84 373h1v3h-1zM85 371h1v2h-1zM86 368h1v3h-1zM87 366h1v2h-1zM88 363h1v3h-1zM89 361h1v2h-1zM90 359h1v2h-1zM91 357h1v2h-1zM92 355h1v2h-1zM93 354h1v1h-1zM94 352h1v2h-1zM95 351h1v1h-1zM96 350h1v1h-1zM97 349h2v1h-2zM99 348h1v1h-1zM100 347h1v1h-1zM101 346h1v1h-1zM102 345h1v1h-1zM103 344h1v1h-1zM104 343h1v1h-1zM105 342h2v1h-2zM107 341h1v1h-1zM108 340h1v1h-1zM109 338h1v2h-1zM110 337h1v1h-1zM111 335h1v2h-1zM112 333h1v2h-1zM113 331h1v2h-1zM114 328h1v3h-1zM115 326h1v2h-1zM116 323h1v3h-1zM117 321h1v2h-1zM118 319h1v2h-1zM119 317h1v2h-1zM120 316h1v1h-1zM121 315h2v1h-2zM123 314h1v1h-1zM124 313h7v1h-7zM131 312h7v1h-7zM138 313h2v1h-2zM140 314h1v1h-1zM141 313h2v1h-2zM143 312h1v1h-1zM144 311h1v1h-1zM145 312h1v1h-1zM146 313h1v1h-1zM147 314h1v1h-1zM148 315h3v1h-3zM151 316h3v1h-3zM154 317h2v1h-2zM156 318h2v1h-2zM158 319h2v1h-2zM160 320h5v1h-5zM165 321h2v1h-2zM167 322h1v1h-1zM168 323h1v1h-1zM169 324h1v1h-1zM170 325h1v2h-1zM171 327h1v1h-1zM172 328h1v1h-1zM173 329h1v2h-1zM174 331h1v1h-1zM175 332h1v2h-1zM176 334h3v1h-3zM179 335h4v1h-4zM183 334h3v1h-3zM186 333h2v1h-2zM188 332h1v1h-1zM189 331h2v1h-2zM191 330h1v1h-1zM192 329h3v1h-3zM195 328h2v1h-2zM197 329h2v1h-2zM199 330h1v1h-1zM200 331h1v1h-1zM201 330h2v1h-2zM203 329h1v1h-1zM204 328h1v1h-1zM205 327h1v1h-1zM206 325h1v2h-1zM207 324h1v1h-1zM208 323h1v1h-1zM209 321h1v2h-1zM210 320h1v1h-1zM211 318h1v2h-1zM212 317h1v1h-1zM213 316h2v1h-2zM215 315h1v1h-1zM216 314h7v1h-7zM223 315h4v1h-4zM227 314h4v1h-4zM231 313h4v1h-4zM235 312h2v1h-2zM237 311h2v1h-2zM239 310h1v1h-1zM240 309h3v1h-3zM243 308h4v1h-4zM247 307h4v1h-4zM251 306h2v1h-2zM253 305h2v1h-2zM255 304h1v1h-1zM256 303h1v1h-1zM257 302h1v1h-1zM258 301h1v1h-1zM259 300h1v1h-1zM260 299h3v1h-3zM263 298h6v1h-6zM269 297h1v1h-1zM270 296h1v1h-1zM271 295h1v1h-1zM272 294h1v1h-1zM273 293h1v1h-1zM274 292h1v1h-1zM275 291h1v1h-1zM276 290h1v1h-1zM277 288h1v2h-1zM278 287h1v1h-1zM279 285h1v2h-1zM280 284h1v1h-1zM281 283h2v1h-2zM283 282h1v1h-1zM284 281h1v1h-1zM285 280h1v1h-1zM286 279h1v1h-1zM287 278h1v1h-1zM288 277h1v1h-1zM289 276h2v1h-2zM291 275h1v1h-1zM292 274h2v1h-2zM294 273h2v1h-2zM296 272h1v1h-1zM297 271h2v1h-2zM299 270h1v1h-1zM300 269h1v1h-1zM301 268h1v1h-1zM302 266h1v2h-1zM303 265h1v1h-1zM304 264h1v1h-1zM305 263h2v1h-2zM307 262h1v1h-1zM308 261h1v1h-1zM309 260h1v1h-1zM310 259h1v1h-1zM311 258h1v1h-1zM312 257h1v1h-1zM313 256h2v1h-2zM315 255h1v1h-1zM316 254h1v1h-1zM317 253h1v1h-1zM318 252h1v1h-1zM319 251h1v1h-1zM320 250h1v1h-1zM321 249h2v1h-2zM323 248h1v1h-1zM324 247h2v1h-2zM326 246h2v1h-2zM328 245h1v1h-1zM329 244h1v1h-1zM330 243h1v1h-1zM331 242h1v1h-1zM332 241h1v1h-1zM333 240h2v1h-2zM335 239h1v1h-1zM336 238h1v1h-1zM337 236h1v2h-1zM338 235h1v1h-1zM339 233h1v2h-1zM340 232h6v1h-6zM346 233h2v1h-2zM348 234h3v1h-3zM351 233h4v1h-4zM355 234h3v1h-3zM358 235h2v1h-2zM360 236h10v1h-10zM370 235h2v1h-2zM372 234h7v1h-7zM379 235h4v1h-4zM383 236h2v1h-2zM385 237h1v1h-1zM386 238h1v1h-1zM387 239h1v1h-1zM388 240h1v1h-1zM389 241h2v1h-2zM391 242h1v1h-1zM392 243h2v1h-2zM394 244h2v1h-2zM396 245h5v1h-5zM401 244h2v1h-2zM403 243h1v1h-1zM404 242h2v1h-2zM406 241h2v1h-2zM408 240h2v1h-2zM410 239h2v1h-2zM412 238h2v1h-2zM414 237h2v1h-2zM416 236h7v1h-7zM423 237h4v1h-4zM427 238h2v1h-2zM429 239h1v1h-1zM430 240h1v2h-1zM431 242h1v1h-1zM432 243h1v1h-1zM433 244h1v2h-1zM434 246h1v1h-1zM435 247h1v2h-1zM436 249h1v1h-1zM437 250h1v1h-1zM438 251h1v1h-1zM439 252h1v1h-1zM440 253h1v1h-1zM441 254h2v1h-2zM443 255h1v1h-1zM444 256h1v1h-1zM445 257h2v1h-2zM447 258h1v1h-1zM448 259h2v1h-2zM450 260h2v1h-2zM452 261h2v1h-2zM454 262h2v1h-2zM456 263h1v1h-1zM457 264h1v1h-1zM458 265h1v1h-1zM459 266h1v1h-1zM460 267h1v1h-1zM461 268h1v1h-1zM462 269h1v2h-1zM463 271h1v1h-1zM464 272h1v1h-1zM465 273h2v1h-2zM467 274h1v1h-1zM468 275h1v1h-1zM469 276h1v1h-1zM470 277h1v1h-1zM471 278h1v1h-1zM472 279h1v1h-1zM473 280h2v1h-2zM475 281h1v1h-1zM476 282h2v1h-2zM478 283h2v1h-2zM480 284h1v1h-1zM481 285h1v1h-1zM482 286h1v1h-1zM483 287h1v1h-1zM484 288h1v1h-1zM485 287h2v1h-2zM487 286h1v1h-1zM488 285h1v1h-1zM489 284h2v1h-2zM491 283h1v1h-1zM492 282h2v1h-2zM494 281h2v1h-2zM496 280h3v1h-3zM499 279h6v1h-6zM505 280h2v1h-2zM507 281h1v1h-1zM508 282h3v1h-3zM511 283h4v1h-4zM515 284h4v1h-4zM519 283h3v1h-3zM522 284h2v1h-2zM524 285h2v1h-2zM526 286h2v1h-2zM528 287h1v1h-1zM529 288h2v1h-2zM531 289h1v1h-1zM532 290h1v1h-1zM533 291h2v1h-2zM535 292h1v1h-1zM536 293h1v1h-1zM537 294h1v2h-1zM538 296h1v1h-1zM539 297h1v2h-1zM540 299h1v2h-1zM541 301h1v2h-1zM542 303h1v2h-1zM543 305h1v2h-1zM544 307h1v3h-1zM545 310h1v2h-1zM546 312h1v2h-1zM547 314h1v2h-1zM548 316h1v3h-1zM549 319h1v2h-1zM550 321h1v2h-1zM551 323h1v2h-1zM552 325h1v3h-1zM553 328h1v2h-1zM554 330h1v2h-1zM555 332h1v2h-1zM556 334h1v2h-1zM557 336h1v2h-1zM558 338h1v2h-1zM559 340h1v2h-1zM560 342h1v1h-1zM561 343h1v2h-1zM562 345h1v2h-1zM563 347h1v2h-1zM564 349h1v1h-1zM565 350h1v1h-1zM566 351h1v2h-1zM567 353h1v1h-1zM568 354h1v1h-1zM569 355h1v1h-1zM570 356h1v1h-1zM571 357h1v1h-1zM572 358h1v1h-1zM573 359h1v1h-1zM574 360h1v2h-1zM575 362h1v1h-1zM576 363h1v1h-1zM577 364h1v2h-1zM578 366h1v1h-1zM579 367h1v2h-1zM580 369h1v1h-1zM581 370h1v1h-1zM582 371h1v1h-1zM583 372h1v1h-1zM584 373h1v1h-1zM585 374h1v2h-1zM586 376h1v1h-1zM587 377h1v2h-1zM588 379h1v1h-1zM589 380h1v2h-1zM590 382h1v2h-1zM591 384h1v2h-1zM592 386h1v1h-1zM593 387h1v1h-1zM594 388h1v1h-1zM595 389h1v1h-1zM596 390h1v1h-1zM597 391h1v1h-1zM598 392h1v2h-1zM599 394h1v1h-1zM600 395h1v1h-1zM601 396h1v1h-1zM602 397h1v1h-1zM603 398h1v1h-1zM604 399h7v1h-7zM611 398h12v1h-12zM623 399h4v1h-4zM627 400h4v1h-4zM631 401h3v1h-3zM634 402h2v1h-2zM636 403h3v1h-3zM639 404h3v1h-3zM642 403h2v1h-2zM644 402h3v1h-3zM647 401h3v1h-3zM650 400h2v1h-2zM652 399h2v1h-2zM654 398h2v1h-2zM656 397h3v1h-3zM659 396h2v1h-2zM661 397h2v1h-2zM663 398h1v1h-1zM664 399h1v1h-1zM665 400h1v1h-1zM666 401h1v2h-1zM667 403h1v1h-1zM668 404h1v1h-1zM669 405h1v1h-1zM670 406h1v2h-1zM671 408h1v1h-1zM672 409h1v1h-1zM673 410h1v2h-1zM674 412h1v1h-1zM675 413h1v2h-1zM676 415h1v1h-1zM677 416h1v2h-1zM678 418h1v2h-1zM679 420h1v2h-1zM680 422h1v1h-1zM681 423h1v2h-1zM682 425h1v1h-1zM683 426h1v2h-1zM684 428h1v1h-1zM685 429h1v2h-1zM686 431h1v1h-1zM687 432h1v2h-1zM688 434h1v1h-1zM689 435h1v1h-1zM690 436h1v1h-1zM691 437h1v1h-1zM692 438h1v1h-1zM693 439h1v2h-1zM694 441h1v1h-1zM695 442h1v2h-1zM696 444h1v1h-1zM697 445h1v1h-1zM698 446h1v1h-1zM699 447h1v1h-1zM700 448h1v1h-1zM701 449h2v1h-2zM703 450h1v1h-1zM704 451h1v1h-1zM705 452h2v1h-2zM707 453h1v1h-1zM708 454h7v1h-7zM715 455h4v1h-4zM719 456h3v1h-3zM722 455h2v1h-2zM724 454h3v1h-3zM727 453h2v1h-2zM729 452h2v1h-2zM731 451h1v1h-1zM732 450h1v1h-1zM733 449h2v1h-2zM735 448h1v1h-1zM736 447h3v1h-3zM739 448h4v1h-4zM743 449h3v1h-3zM746 448h2v1h-2zM748 447h7v1h-7zM755 446h16v1h-16zM771 445h4v1h-4zM775 444h12v1h-12zM787 445h7v1h-7zM794 444h2v1h-2zM796 443h7v1h-7zM803 442h4v1h-4zM807 443h4v1h-4zM811 444h3v1h-3zM814 445h2v1h-2zM816 446h1v1h-1zM817 447h2v1h-2zM819 448h1v1h-1zM820 449h3v1h-3zM823 450h4v1h-4zM827 451h7v1h-7zM834 450h2v1h-2zM836 449h2v1h-2zM838 448h2v1h-2zM840 447h2v1h-2zM842 446h2v1h-2zM844 445h3v1h-3zM847 444h3v1h-3zM850 443h2v1h-2zM852 442h3v1h-3zM855 441h4v1h-4zM859 440h3v1h-3zM862 439h2v1h-2zM864 438h1v1h-1zM865 436h1v2h-1zM866 435h1v1h-1zM867 433h1v2h-1zM868 432h1v1h-1zM869 431h1v1h-1zM870 429h1v2h-1zM871 428h1v1h-1zM872 426h1v2h-1zM873 424h1v2h-1zM874 422h1v2h-1zM875 420h1v2h-1zM876 417h1v3h-1zM877 415h1v2h-1zM878 413h1v2h-1zM879 411h1v2h-1zM880 409h1v2h-1zM881 407h1v2h-1zM882 404h1v3h-1zM883 402h1v2h-1zM884 399h1v3h-1zM885 396h1v3h-1zM886 393h1v3h-1zM887 390h1v3h-1zM888 387h1v3h-1zM889 384h1v3h-1zM890 381h1v3h-1zM891 378h1v3h-1zM892 375h1v3h-1zM893 373h1v2h-1zM894 370h1v3h-1zM895 368h1v2h-1zM896 365h1v3h-1zM897 361h1v4h-1zM898 358h1v3h-1zM899 354h1v4h-1zM900 351h1v3h-1zM901 348h1v3h-1zM902 344h1v4h-1zM903 341h1v3h-1zM904 338h1v3h-1zM905 335h1v3h-1zM906 331h1v4h-1zM907 328h1v3h-1zM908 325h1v3h-1zM909 321h1v4h-1zM910 318h1v3h-1zM911 314h1v4h-1zM912 311h1v3h-1zM913 308h1v3h-1zM914 305h1v3h-1zM915 302h1v3h-1zM916 299h1v3h-1zM917 296h1v3h-1zM918 292h1v4h-1zM919 289h1v3h-1zM920 286h1v3h-1zM921 284h1v2h-1zM922 282h1v2h-1zM923 280h1v2h-1zM924 278h1v2h-1zM925 276h1v2h-1zM926 274h1v2h-1zM927 272h1v2h-1zM928 270h1v2h-1zM929 268h1v2h-1zM930 266h1v2h-1zM931 264h1v2h-1zM932 263h1v1h-1zM933 261h1v2h-1zM934 260h1v1h-1zM935 258h1v2h-1zM936 257h1v1h-1zM937 255h1v2h-1zM938 254h1v1h-1zM939 252h1v2h-1zM940 251h3v1h-3zM943 250h7v1h-7zM950 249h2v1h-2zM952 248h3v1h-3zM955 249h4v1h-4zM959 250h4v1h-4zM963 249h4v1h-4zM967 248h4v1h-4zM971 249h4v1h-4zM975 248h4v1h-4zM979 247h3v1h-3zM982 246h2v1h-2zM984 245h3v1h-3zM987 244h2v1h-2zM989 245h2v1h-2zM991 246h1v1h-1zM992 247h1v1h-1zM993 248h2v1h-2zM995 249h1v1h-1zM996 250h1v1h-1zM997 251h1v1h-1zM998 252h1v1h-1zM999 253h1v1h-1zM1000 254h1v1h-1zM1001 255h1v1h-1zM1002 256h1v1h-1zM1003 257h1v1h-1zM1004 258h1v1h-1zM1005 259h2v1h-2zM1007 260h1v1h-1zM1008 261h1v1h-1zM1009 262h2v1h-2zM1011 263h1v1h-1zM1012 264h1v1h-1zM1013 265h2v1h-2zM1015 266h1v1h-1zM1016 267h1v1h-1zM1017 268h1v1h-1zM1018 269h1v2h-1zM1019 271h1v1h-1zM1020 272h1v1h-1zM1021 273h1v1h-1zM1022 274h1v2h-1zM1023 276h1v1h-1zM1024 277h1v1h-1zM1025 278h1v1h-1zM1026 279h1v1h-1zM1027 280h1v1h-1zM1028 281h1v1h-1zM1029 282h2v1h-2zM1031 283h1v1h-1zM1032 284h1v1h-1zM1033 285h1v1h-1zM1034 286h1v1h-1zM1035 287h1v1h-1zM1036 288h1v1h-1zM1037 289h1v1h-1zM1038 290h1v1h-1zM1039 291h1v1h-1zM1040 292h2v1h-2zM1042 293h2v1h-2zM1044 294h3v1h-3zM1047 295h8v1h-8zM1055 294h4v1h-4zM1059 293h8v1h-8zM1067 294h8v1h-8zM1075 293h7v1h-7zM1082 292h2v1h-2zM1084 291h15v1h-15zM1099 292h4v1h-4zM1103 293h8v1h-8zM1111 292h2v1h-2zM1113 291h2v1h-2zM1115 290h1v1h-1zM1116 289h1v1h-1zM1117 287h1v2h-1zM1118 286h1v1h-1zM1119 284h1v2h-1zM1120 283h1v1h-1zM1121 281h1v2h-1zM1122 279h1v2h-1zM1123 277h1v2h-1zM1124 274h1v3h-1zM1125 270h1v4h-1zM1126 266h1v4h-1zM1127 262h1v4h-1zM1128 259h1v3h-1zM1129 256h1v3h-1zM1130 253h1v3h-1zM1131 250h1v3h-1zM1132 247h1v3h-1zM1133 243h1v4h-1zM1134 240h1v3h-1zM1135 236h1v4h-1zM1136 233h1v3h-1zM1137 230h1v3h-1zM1138 226h1v4h-1zM1139 223h1v3h-1zM1140 221h1v2h-1z" fill="#ff0000"/>
<path d="M29 560h1v1h-1zM30 557h1v3h-1zM31 553h1v4h-1zM32 550h1v3h-1zM33 547h1v3h-1zM34 543h1v4h-1zM35 540h1v3h-1zM36 537h1v3h-1zM37 533h1v4h-1zM38 530h1v3h-1zM39 526h1v4h-1zM40 523h1v3h-1zM41 519h1v4h-1zM42 516h1v3h-1zM43 512h1v4h-1zM44 509h1v3h-1zM45 506h1v3h-1zM46 502h1v4h-1zM47 499h1v3h-1zM48 496h1v3h-1zM49 492h1v4h-1zM50 488h1v4h-1zM51 484h1v4h-1zM52 481h1v3h-1zM53 478h1v3h-1zM54 474h1v4h-1zM55 471h1v3h-1zM56 468h1v3h-1zM57 466h1v2h-1zM58 464h1v2h-1zM59 462h1v2h-1zM60 460h1v2h-1zM61 458h1v2h-1zM62 455h1v3h-1zM63 453h1v2h-1zM64 450h1v3h-1zM65 448h1v2h-1zM66 446h1v2h-1zM67 444h1v2h-1zM68 441h1v3h-1zM69 439h1v2h-1zM70 437h1v2h-1zM71 435h1v2h-1zM72 433h1v2h-1zM73 431h1v2h-1zM74 429h1v2h-1zM75 427h1v2h-1zM76 426h1v1h-1zM77 424h1v2h-1zM78 422h1v2h-1zM79 420h1v2h-1zM80 418h1v2h-1zM81 416h1v2h-1zM82 413h1v3h-1zM83 411h1v2h-1zM84 408h1v3h-1zM85 406h1v2h-1zM86 404h1v2h-1zM87 402h1v2h-1zM88 399h1v3h-1zM89 397h1v2h-1zM90 395h1v2h-1zM91 393h1v2h-1zM92 391h1v2h-1zM93 389h1v2h-1zM94 387h1v2h-1zM95 385h1v2h-1zM96 384h1v1h-1zM97 382h1v2h-1zM98 381h1v1h-1zM99 379h1v2h-1zM100 378h1v1h-1zM101 376h1v2h-1zM102 375h1v1h-1zM103 373h1v2h-1zM104 371h1v2h-1zM105 369h1v2h-1zM106 367h1v2h-1zM107 365h1v2h-1zM108 363h1v2h-1zM109 361h1v2h-1zM110 359h1v2h-1zM111 357h1v2h-1zM112 355h1v2h-1zM113 353h1v2h-1zM114 351h1v2h-1zM115 349h1v2h-1zM116 346h1v3h-1zM117 344h1v2h-1zM118 341h1v3h-1zM119 339h1v2h-1zM120 337h1v2h-1zM121 336h1v1h-1zM122 334h1v2h-1zM123 333h1v1h-1zM124 332h2v1h-2zM126 331h2v1h-2zM128 330h1v1h-1zM129 329h2v1h-2zM131 328h1v1h-1zM132 327h6v1h-6zM138 326h2v1h-2zM140 325h1v1h-1zM141 323h1v2h-1zM142 322h1v1h-1zM143 320h1v2h-1zM144 319h3v1h-3zM147 320h4v1h-4zM151 321h4v1h-4zM155 322h8v1h-8zM163 321h4v1h-4zM167 322h4v1h-4zM171 323h8v1h-8zM179 322h4v1h-4zM183 321h4v1h-4zM187 320h8v1h-8zM195 321h2v1h-2zM197 322h2v1h-2zM199 323h1v1h-1zM200 324h1v1h-1zM201 325h1v1h-1zM202 326h1v1h-1zM203 327h1v1h-1zM204 328h5v1h-5zM209 327h2v1h-2zM211 326h1v1h-1zM212 325h3v1h-3zM215 324h3v1h-3zM218 323h2v1h-2zM220 322h3v1h-3zM223 323h3v1h-3zM226 324h2v1h-2zM228 325h1v1h-1zM229 324h2v1h-2zM231 323h1v1h-1zM232 322h1v1h-1zM233 321h2v1h-2zM235 320h1v1h-1zM236 319h1v1h-1zM237 318h1v1h-1zM238 317h1v1h-1zM239 316h1v1h-1zM240 315h1v1h-1zM241 314h2v1h-2zM243 313h1v1h-1zM244 312h6v1h-6zM250 311h2v1h-2zM252 310h2v1h-2zM254 309h2v1h-2zM256 308h1v1h-1zM257 307h2v1h-2zM259 306h1v1h-1zM260 305h2v1h-2zM262 304h2v1h-2zM264 303h2v1h-2zM266 302h2v1h-2zM268 301h1v1h-1zM269 300h2v1h-2zM271 299h1v1h-1zM272 298h2v1h-2zM274 297h2v1h-2zM276 296h2v1h-2zM278 295h2v1h-2zM280 294h1v1h-1zM281 293h2v1h-2zM283 292h1v1h-1zM284 291h1v1h-1zM285 290h2v1h-2zM287 289h1v1h-1zM288 288h2v1h-2zM290 287h2v1h-2zM292 286h3v1h-3zM295 285h2v1h-2zM297 284h2v1h-2zM299 283h1v1h-1zM300 282h1v1h-1zM301 281h1v1h-1zM302 280h1v1h-1zM303 279h1v1h-1zM304 278h1v1h-1zM305 277h1v1h-1zM306 276h1v1h-1zM307 275h1v1h-1zM308 274h1v1h-1zM309 273h1v1h-1zM310 271h1v2h-1zM311 270h1v1h-1zM312 269h1v1h-1zM313 268h2v1h-2zM315 267h1v1h-1zM316 266h1v1h-1zM317 265h1v1h-1zM318 264h1v1h-1zM319 263h1v1h-1zM320 262h1v1h-1zM321 261h2v1h-2zM323 260h1v1h-1zM324 259h1v1h-1zM325 258h2v1h-2zM327 257h1v1h-1zM328 256h1v1h-1zM329 255h1v1h-1zM330 254h1v1h-1zM331 253h1v1h-1zM332 252h1v1h-1zM333 251h1v1h-1zM334 250h1v1h-1zM335 249h1v1h-1zM336 248h1v1h-1zM337 247h1v1h-1zM338 246h1v1h-1zM339 245h1v1h-1zM340 244h3v1h-3zM343 243h8v1h-8zM351 242h14v1h-14zM365 241h2v1h-2zM367 240h1v1h-1zM368 239h2v1h-2zM370 238h2v1h-2zM372 237h3v1h-3zM375 236h3v1h-3zM378 235h2v1h-2zM380 234h6v1h-6zM386 235h2v1h-2zM388 236h15v1h-15zM403 237h4v1h-4zM407 238h8v1h-8zM415 239h4v1h-4zM419 240h3v1h-3zM422 241h2v1h-2zM424 242h3v1h-3zM427 241h4v1h-4zM431 242h2v1h-2zM433 243h2v1h-2zM435 244h1v1h-1zM436 245h2v1h-2zM438 246h2v1h-2zM440 247h2v1h-2zM442 248h2v1h-2zM444 249h2v1h-2zM446 250h2v1h-2zM448 251h2v1h-2zM450 252h2v1h-2zM452 253h1v1h-1zM453 254h2v1h-2zM455 255h1v1h-1zM456 256h1v1h-1zM457 257h1v1h-1zM458 258h1v1h-1zM459 259h1v1h-1zM460 260h2v1h-2zM462 261h2v1h-2zM464 262h2v1h-2zM466 263h2v1h-2zM468 264h3v1h-3zM471 265h3v1h-3zM474 266h2v1h-2zM476 267h3v1h-3zM479 268h3v1h-3zM482 269h2v1h-2zM484 270h5v1h-5zM489 271h2v1h-2zM491 272h1v1h-1zM492 273h2v1h-2zM494 274h2v1h-2zM496 275h2v1h-2zM498 276h2v1h-2zM500 277h1v1h-1zM501 278h2v1h-2zM503 279h1v1h-1zM504 280h1v1h-1zM505 281h2v1h-2zM507 282h1v1h-1zM508 283h1v1h-1zM509 284h2v1h-2zM511 285h1v1h-1zM512 286h3v1h-3zM515 287h3v1h-3zM518 286h2v1h-2zM520 285h10v1h-10zM530 286h2v1h-2zM532 287h1v1h-1zM533 288h2v1h-2zM535 289h1v1h-1zM536 290h1v1h-1zM537 291h1v1h-1zM538 292h1v1h-1zM539 293h1v1h-1zM540 294h1v1h-1zM541 295h2v1h-2zM543 296h1v1h-1zM544 297h1v1h-1zM545 298h1v2h-1zM546 300h1v1h-1zM547 301h1v2h-1zM548 303h1v1h-1zM549 304h1v2h-1zM550 306h1v1h-1zM551 307h1v2h-1zM552 309h1v1h-1zM553 310h1v2h-1zM554 312h1v1h-1zM555 313h1v2h-1zM556 315h1v1h-1zM557 316h1v2h-1zM558 318h1v1h-1zM559 319h1v2h-1zM560 321h1v1h-1zM561 322h1v1h-1zM562 323h1v2h-1zM563 325h1v1h-1zM564 326h1v1h-1zM565 327h1v1h-1zM566 328h1v1h-1zM567 329h1v1h-1zM568 330h1v1h-1zM569 331h1v1h-1zM570 332h1v2h-1zM571 334h1v1h-1zM572 335h1v1h-1zM573 336h1v1h-1zM574 337h1v1h-1zM575 338h1v1h-1zM576 339h1v1h-1zM577 340h1v1h-1zM578 341h1v2h-1zM579 343h1v1h-1zM580 344h1v1h-1zM581 345h1v1h-1zM582 346h1v1h-1zM583 347h1v1h-1zM584 348h1v1h-1zM585 349h1v2h-1zM586 351h1v1h-1zM587 352h1v2h-1zM588 354h1v1h-1zM589 355h1v1h-1zM590 356h1v2h-1zM591 358h1v1h-1zM592 359h1v1h-1zM593 360h1v1h-1zM594 361h1v2h-1zM595 363h1v1h-1zM596 364h1v2h-1zM597 366h1v2h-1zM598 368h1v2h-1zM599 370h1v2h-1zM600 372h1v2h-1zM601 374h1v2h-1zM602 376h1v2h-1zM603 378h1v2h-1zM604 380h1v1h-1zM605 381h1v1h-1zM606 382h1v2h-1zM607 384h1v1h-1zM608 385h1v1h-1zM609 386h1v1h-1zM610 387h1v1h-1zM611 388h1v1h-1zM612 389h1v1h-1zM613 390h1v1h-1zM614 391h1v1h-1zM615 392h1v1h-1zM616 393h1v1h-1zM617 394h2v1h-2zM619 395h1v1h-1zM620 396h3v1h-3zM623 397h8v1h-8zM631 396h4v1h-4zM635 395h4v1h-4zM639 394h4v1h-4zM643 393h7v1h-7zM650 394h2v1h-2zM652 395h1v1h-1zM653 396h2v1h-2zM655 397h1v1h-1zM656 398h1v1h-1zM657 399h1v1h-1zM658 400h1v1h-1zM659 401h1v1h-1zM660 402h1v1h-1zM661 403h2v1h-2zM663 404h1v1h-1zM664 405h1v1h-1zM665 406h1v1h-1zM666 407h1v1h-1zM667 408h1v1h-1zM668 409h1v1h-1zM669 410h2v1h-2zM671 411h1v1h-1zM672 412h1v1h-1zM673 413h1v1h-1zM674 414h1v1h-1zM675 415h1v1h-1zM676 416h1v1h-1zM677 417h2v1h-2zM679 418h1v1h-1zM680 419h10v1h-10zM690 420h2v1h-2zM692 421h1v1h-1zM693 422h1v1h-1zM694 423h1v1h-1zM695 424h1v1h-1zM696 425h2v1h-2zM698 426h2v1h-2zM700 427h2v1h-2zM702 428h2v1h-2zM704 429h2v1h-2zM706 430h2v1h-2zM708 431h2v1h-2zM710 432h2v1h-2zM712 433h1v1h-1zM713 434h1v1h-1zM714 435h1v2h-1zM715 437h1v1h-1zM716 438h1v1h-1zM717 439h2v1h-2zM719 440h1v1h-1zM720 441h2v1h-2zM722 442h2v1h-2zM724 443h1v1h-1zM725 444h2v1h-2zM727 445h1v1h-1zM728 446h1v1h-1zM729 447h2v1h-2zM731 448h1v1h-1zM732 449h2v1h-2zM734 450h2v1h-2zM736 451h1v1h-1zM737 452h2v1h-2zM739 453h1v1h-1zM740 454h11v1h-11zM751 453h4v1h-4zM755 452h2v1h-2zM757 451h2v1h-2zM759 450h1v1h-1zM760 449h1v1h-1zM761 448h2v1h-2zM763 447h1v1h-1zM764 446h3v1h-3zM767 445h8v1h-8zM775 444h12v1h-12zM787 445h4v1h-4zM791 446h12v1h-12zM803 445h8v1h-8zM811 446h7v1h-7zM818 447h2v1h-2zM820 448h3v1h-3zM823 447h8v1h-8zM831 446h7v1h-7zM838 445h2v1h-2zM840 444h11v1h-11zM851 443h8v1h-8zM859 442h4v1h-4zM863 441h2v1h-2zM865 440h2v1h-2zM867 439h1v1h-1zM868 438h1v1h-1zM869 437h1v1h-1zM870 436h1v1h-1zM871 435h1v1h-1zM872 434h1v1h-1zM873 433h1v1h-1zM874 432h1v1h-1zM875 431h1v1h-1zM876 430h1v1h-1zM877 428h1v2h-1zM878 427h1v1h-1zM879 425h1v2h-1zM880 424h1v1h-1zM881 422h1v2h-1zM882 421h1v1h-1zM883 419h1v2h-1zM884 417h1v2h-1zM885 415h1v2h-1zM886 413h1v2h-1zM887 411h1v2h-1zM888 409h1v2h-1zM889 407h1v2h-1zM890 405h1v2h-1zM891 403h1v2h-1zM892 400h1v3h-1zM893 398h1v2h-1zM894 396h1v2h-1zM895 394h1v2h-1zM896 391h1v3h-1zM897 389h1v2h-1zM898 386h1v3h-1zM899 384h1v2h-1zM900 381h1v3h-1zM901 378h1v3h-1zM902 375h1v3h-1zM903 372h1v3h-1zM904 369h1v3h-1zM905 367h1v2h-1zM906 364h1v3h-1zM907 362h1v2h-1zM908 359h1v3h-1zM909 357h1v2h-1zM910 355h1v2h-1zM911 353h1v2h-1zM912 350h1v3h-1zM913 348h1v2h-1zM914 345h1v3h-1zM915 343h1v2h-1zM916 340h1v3h-1zM917 338h1v2h-1zM918 336h1v2h-1zM919 334h1v2h-1zM920 333h1v1h-1zM921 331h1v2h-1zM922 329h1v2h-1zM923 327h1v2h-1zM924 325h1v2h-1zM925 323h1v2h-1zM926 321h1v2h-1zM927 319h1v2h-1zM928 317h1v2h-1zM929 315h1v2h-1zM930 313h1v2h-1zM931 311h1v2h-1zM932 309h1v2h-1zM933 307h1v2h-1zM934 305h1v2h-1zM935 303h1v2h-1zM936 300h1v3h-1zM937 298h1v2h-1zM938 296h1v2h-1zM939 294h1v2h-1zM940 291h1v3h-1zM941 289h1v2h-1zM942 287h1v2h-1zM943 285h1v2h-1zM944 283h1v2h-1zM945 281h1v2h-1zM946 279h1v2h-1zM947 277h1v2h-1zM948 276h1v1h-1zM949 274h1v2h-1zM950 273h1v1h-1zM951 271h1v2h-1zM952 270h1v1h-1zM953 268h1v2h-1zM954 267h1v1h-1zM955 265h1v2h-1zM956 264h1v1h-1zM957 262h1v2h-1zM958 261h1v1h-1zM959 259h1v2h-1zM960 258h1v1h-1zM961 257h1v1h-1zM962 255h1v2h-1zM963 254h1v1h-1zM964 253h1v1h-1zM965 252h1v1h-1zM966 251h1v1h-1zM967 250h1v1h-1zM968 249h7v1h-7zM975 248h4v1h-4zM979 247h4v1h-4zM983 246h4v1h-4zM987 247h3v1h-3zM990 248h2v1h-2zM992 249h3v1h-3zM995 250h2v1h-2zM997 251h1v1h-1zM998 252h1v1h-1zM999 253h1v1h-1zM1000 254h2v1h-2zM1002 255h2v1h-2zM1004 256h2v1h-2zM1006 257h2v1h-2zM1008 258h3v1h-3zM1011 259h3v1h-3zM1014 260h2v1h-2zM1016 261h2v1h-2zM1018 262h2v1h-2zM1020 263h1v1h-1zM1021 264h2v1h-2zM1023 265h1v1h-1zM1024 266h1v1h-1zM1025 267h2v1h-2zM1027 268h1v1h-1zM1028 269h2v1h-2zM1030 270h2v1h-2zM1032 271h2v1h-2zM1034 272h2v1h-2zM1036 273h2v1h-2zM1038 274h2v1h-2zM1040 275h2v1h-2zM1042 276h2v1h-2zM1044 277h2v1h-2zM1046 278h2v1h-2zM1048 279h2v1h-2zM1050 280h2v1h-2zM1052 281h1v1h-1zM1053 282h2v1h-2zM1055 283h1v1h-1zM1056 284h2v1h-2zM1058 285h2v1h-2zM1060 286h2v1h-2zM1062 287h2v1h-2zM1064 288h1v1h-1zM1065 289h2v1h-2zM1067 290h1v1h-1zM1068 291h2v1h-2zM1070 292h2v1h-2zM1072 293h3v1h-3zM1075 294h4v1h-4zM1079 295h4v1h-4zM1083 294h4v1h-4zM1087 293h12v1h-12zM1099 294h4v1h-4zM1103 293h4v1h-4zM1107 292h4v1h-4zM1111 291h3v1h-3zM1114 290h2v1h-2zM1116 289h1v1h-1zM1117 288h1v1h-1zM1118 287h1v1h-1zM1119 286h1v1h-1zM1120 285h1v1h-1zM1121 284h1v1h-1zM1122 283h1v1h-1zM1123 282h1v1h-1zM1124 280h1v2h-1zM1125 277h1v3h-1zM1126 275h1v2h-1zM1127 272h1v3h-1zM1128 270h1v2h-1zM1129 268h1v2h-1zM1130 266h1v2h-1zM1131 264h1v2h-1zM1132 262h1v2h-1zM1133 260h1v2h-1zM1134 258h1v2h-1zM1135 256h1v2h-1zM1136 253h1v3h-1zM1137 251h1v2h-1zM1138 249h1v2h-1zM1139 247h1v2h-1zM1140 245h1v2h-1z" fill="#ffff00"/>
<rect x="4" y="346" width="1415" height="3" fill="#0000ff"/>
<rect x="4" y="271" width="1415" height="3" fill="#0000cd"/>
<rect x="1413" y="269" width="6" height="7" fill="#0000cd"/>
<rect x="1416" y="272" width="1" height="1" fill="#fff"/>
<rect x="4" y="177" width="1415" height="3" fill="#00ff00"/>
<rect x="1413" y="175" width="6" height="7" fill="#00ff00"/>
<rect x="1416" y="178" width="1" height="1" fill="#fff"/>
<rect x="4" y="78" width="1415" height="3" fill="#ff0000"/>
<rect x="1413" y="76" width="6" height="7" fill="#ff0000"/>
<rect x="1416" y="79" width="1" height="1" fill="#fff"/>
<rect x="1130" y="23" width="9" height="1" fill="#c0c0c0"/>
<rect x="1131" y="24" width="7" height="1" fill="#c0c0c0"/>
<rect x="1132" y="25" width="5" height="1" fill="#c0c0c0"/>
<rect x="1133" y="26" width="3" height="1" fill="#c0c0c0"/>
<rect x="1134" y="27" width="1" height="1" fill="#c0c0c0"/>
<path d="M4 576h1v57h-1zM8 576h1v57h-1zM12 576h1v57h-1zM16 576h1v57h-1zM20 576h1v57h-1zM24 576h1v57h-1zM28 576h1v57h-1zM32 576h1v57h-1zM36 576h1v57h-1zM40 576h1v57h-1zM44 576h1v57h-1zM48 576h1v57h-1zM52 576h1v57h-1zM56 576h1v57h-1zM60 576h1v57h-1zM64 576h1v57h-1zM68 576h1v57h-1zM72 576h1v57h-1zM76 576h1v57h-1zM80 576h1v57h-1zM84 576h1v57h-1zM88 576h1v57h-1zM92 576h1v57h-1zM96 582h1v51h-1zM100 585h1v48h-1zM104 587h1v46h-1zM108 587h1v46h-1zM112 586h1v47h-1zM116 586h1v47h-1zM120 584h1v49h-1zM124 587h1v46h-1zM128 593h1v40h-1zM132 597h1v36h-1zM136 602h1v31h-1zM140 604h1v29h-1zM144 604h1v29h-1zM148 609h1v24h-1zM152 615h1v18h-1zM156 618h1v15h-1zM160 621h1v12h-1zM164 620h1v13h-1zM168 620h1v13h-1zM172 621h1v12h-1zM176 621h1v12h-1zM180 621h1v12h-1zM184 622h1v11h-1zM188 621h1v12h-1zM192 620h1v13h-1zM196 620h1v13h-1zM200 621h1v12h-1zM204 622h1v11h-1zM208 621h1v12h-1zM212 621h1v12h-1zM216 622h1v11h-1zM220 623h1v10h-1zM224 625h1v8h-1zM228 626h1v7h-1zM232 626h1v7h-1zM236 626h1v7h-1zM240 625h1v8h-1zM244 624h1v9h-1zM248 624h1v9h-1zM252 624h1v9h-1zM256 623h1v10h-1zM260 622h1v11h-1zM264 622h1v11h-1zM268 621h1v12h-1zM272 620h1v13h-1zM276 619h1v14h-1zM280 618h1v15h-1zM284 620h1v13h-1zM288 620h1v13h-1zM292 620h1v13h-1zM296 619h1v14h-1zM300 619h1v14h-1zM304 618h1v15h-1zM308 617h1v16h-1zM312 617h1v16h-1zM316 617h1v16h-1zM320 616h1v17h-1zM324 616h1v17h-1zM328 616h1v17h-1zM332 615h1v18h-1zM336 614h1v19h-1zM340 614h1v19h-1zM344 617h1v16h-1zM348 622h1v11h-1zM352 624h1v9h-1zM356 626h1v7h-1zM360 627h1v6h-1zM364 627h1v6h-1zM368 627h1v6h-1zM372 625h1v8h-1zM376 625h1v8h-1zM380 625h1v8h-1zM384 627h1v6h-1zM388 629h1v4h-1zM392 629h1v4h-1zM396 629h1v4h-1zM400 630h1v3h-1zM404 630h1v3h-1zM408 630h1v3h-1zM412 629h1v4h-1zM416 628h1v5h-1zM420 628h1v5h-1zM424 629h1v4h-1zM428 629h1v4h-1zM432 631h1v2h-1zM436 632h1v6h-1zM440 632h1v9h-1zM444 632h1v10h-1zM448 632h1v11h-1zM452 632h1v10h-1zM456 632h1v9h-1zM460 632h1v11h-1zM464 632h1v12h-1zM468 632h1v10h-1zM472 632h1v9h-1zM476 632h1v9h-1zM480 632h1v8h-1zM484 632h1v8h-1zM488 632h1v6h-1zM492 632h1v5h-1zM496 632h1v5h-1zM500 632h1v6h-1zM504 632h1v6h-1zM508 632h1v7h-1zM512 632h1v7h-1zM516 632h1v8h-1zM520 632h1v8h-1zM524 632h1v8h-1zM528 632h1v9h-1zM532 632h1v10h-1zM536 632h1v11h-1zM540 632h1v14h-1zM544 632h1v18h-1zM548 632h1v23h-1zM552 632h1v26h-1zM556 632h1v28h-1zM560 632h1v29h-1zM564 632h1v29h-1zM568 632h1v28h-1zM572 632h1v25h-1zM576 632h1v23h-1zM580 632h1v21h-1zM584 632h1v21h-1zM588 632h1v22h-1zM592 632h1v24h-1zM596 632h1v25h-1zM600 632h1v27h-1zM604 632h1v29h-1zM608 632h1v28h-1zM612 632h1v24h-1zM616 632h1v22h-1zM620 632h1v20h-1zM624 632h1v18h-1zM628 632h1v15h-1zM632 632h1v12h-1zM636 632h1v11h-1zM640 632h1v10h-1zM644 632h1v9h-1zM648 632h1v8h-1zM652 632h1v8h-1zM656 632h1v10h-1zM660 632h1v13h-1zM664 632h1v14h-1zM668 632h1v17h-1zM672 632h1v19h-1zM676 632h1v21h-1zM680 632h1v23h-1zM684 632h1v23h-1zM688 632h1v21h-1zM692 632h1v21h-1zM696 632h1v20h-1zM700 632h1v18h-1zM704 632h1v16h-1zM708 632h1v14h-1zM712 632h1v13h-1zM716 632h1v13h-1zM720 632h1v13h-1zM724 632h1v11h-1zM728 632h1v11h-1zM732 632h1v10h-1zM736 632h1v9h-1zM740 632h1v10h-1zM744 632h1v10h-1zM748 632h1v9h-1zM752 632h1v8h-1zM756 632h1v8h-1zM760 632h1v6h-1zM764 632h1v4h-1zM768 632h1v4h-1zM772 632h1v4h-1zM776 632h1v3h-1zM780 632h1v4h-1zM784 632h1v4h-1zM788 632h1v5h-1zM792 632h1v4h-1zM796 632h1v4h-1zM800 632h1v4h-1zM804 632h1v3h-1zM808 632h1v4h-1zM812 632h1v5h-1zM816 632h1v5h-1zM820 632h1v5h-1zM824 632h1v6h-1zM828 632h1v5h-1zM832 632h1v4h-1zM836 632h1v3h-1zM840 632h1v2h-1zM844 631h1v2h-1zM848 630h1v3h-1zM852 630h1v3h-1zM856 629h1v4h-1zM860 628h1v5h-1zM864 628h1v5h-1zM868 626h1v7h-1zM872 622h1v11h-1zM876 619h1v14h-1zM880 615h1v18h-1zM884 611h1v22h-1zM888 604h1v29h-1zM892 600h1v33h-1zM896 597h1v36h-1zM900 593h1v40h-1zM904 590h1v43h-1zM908 588h1v45h-1zM912 588h1v45h-1zM916 588h1v45h-1zM920 589h1v44h-1zM924 591h1v42h-1zM928 593h1v40h-1zM932 595h1v38h-1zM936 596h1v37h-1zM940 597h1v36h-1zM944 598h1v35h-1zM948 601h1v32h-1zM952 602h1v31h-1zM956 604h1v29h-1zM960 605h1v28h-1zM964 606h1v27h-1zM968 607h1v26h-1zM972 609h1v24h-1zM976 610h1v23h-1zM980 612h1v21h-1zM984 613h1v20h-1zM988 614h1v19h-1zM992 617h1v16h-1zM996 620h1v13h-1zM1000 625h1v8h-1zM1004 628h1v5h-1zM1008 630h1v3h-1zM1012 631h1v2h-1zM1016 632h1v1h-1zM1020 632h1v2h-1zM1024 632h1v3h-1zM1028 632h1v5h-1zM1032 632h1v5h-1zM1036 632h1v4h-1zM1040 632h1v5h-1zM1044 632h1v3h-1zM1048 632h1v3h-1zM1052 632h1v3h-1zM1056 632h1v4h-1zM1060 632h1v5h-1zM1064 632h1v3h-1zM1068 632h1v3h-1zM1072 632h1v3h-1zM1076 632h1v3h-1zM1080 632h1v3h-1zM1084 632h1v3h-1zM1088 632h1v3h-1zM1092 632h1v3h-1zM1096 632h1v3h-1zM1100 632h1v3h-1zM1104 632h1v3h-1zM1108 632h1v2h-1zM1112 632h1v1h-1zM1116 632h1v1h-1zM1120 627h1v6h-1zM1124 622h1v11h-1zM1128 609h1v24h-1zM1132 604h1v29h-1zM1136 599h1v34h-1zM1140 596h1v37h-1z" fill="#c0c0c0"/>
<path d="M4 589h1v1h-1zM5 588h1v1h-1zM6 587h1v1h-1zM10 584h1v1h-1zM11 583h1v1h-1zM12 582h1v1h-1zM16 580h2v1h-2zM18 579h1v1h-1zM22 578h1v1h-1zM23 577h2v1h-2zM28 576h3v1h-3zM34 575h3v1h-3zM40 574h3v1h-3zM46 573h3v1h-3zM52 573h3v1h-3zM58 572h3v1h-3zM64 572h3v1h-3zM70 572h3v1h-3zM76 572h3v1h-3zM82 572h3v1h-3zM88 573h2v1h-2zM90 574h1v1h-1zM94 575h2v1h-2zM96 576h1v1h-1zM100 577h3v1h-3zM106 578h1v1h-1zM107 579h2v1h-2zM112 580h2v1h-2zM114 581h1v1h-1zM118 582h3v1h-3zM124 584h3v1h-3zM130 586h2v1h-2zM132 587h1v1h-1zM136 589h1v1h-1zM137 590h2v1h-2zM142 592h1v1h-1zM143 593h2v1h-2zM148 595h1v1h-1zM149 596h1v1h-1zM150 597h1v1h-1zM154 601h1v1h-1zM155 602h1v1h-1zM156 603h1v1h-1zM160 606h2v1h-2zM162 607h1v1h-1zM166 610h1v1h-1zM167 611h2v1h-2zM172 614h1v1h-1zM173 615h2v1h-2zM178 617h2v1h-2zM180 618h1v1h-1zM184 619h3v1h-3zM190 620h3v1h-3zM196 620h2v1h-2zM198 621h1v1h-1zM202 621h3v1h-3zM208 621h3v1h-3zM214 621h3v1h-3zM220 621h2v1h-2zM222 622h1v1h-1zM226 622h1v1h-1zM227 623h2v1h-2zM232 623h3v1h-3zM238 623h3v1h-3zM244 623h3v1h-3zM250 624h3v1h-3zM256 624h3v1h-3zM262 623h3v1h-3zM268 623h2v1h-2zM270 622h1v1h-1zM274 622h2v1h-2zM276 621h1v1h-1zM280 621h3v1h-3zM286 620h3v1h-3zM292 619h3v1h-3zM298 619h1v1h-1zM299 618h2v1h-2zM304 618h3v1h-3zM310 618h3v1h-3zM316 617h3v1h-3zM322 617h3v1h-3zM328 616h3v1h-3zM334 616h3v1h-3zM340 615h3v1h-3zM346 615h1v1h-1zM347 616h2v1h-2zM352 616h3v1h-3zM358 617h1v1h-1zM359 618h2v1h-2zM364 619h1v1h-1zM365 620h2v1h-2zM370 622h3v1h-3zM376 623h2v1h-2zM378 624h1v1h-1zM382 625h3v1h-3zM388 625h2v1h-2zM390 626h1v1h-1zM394 626h3v1h-3zM400 626h2v1h-2zM402 627h1v1h-1zM406 627h3v1h-3zM412 628h3v1h-3zM418 629h3v1h-3zM424 629h2v1h-2zM426 630h1v1h-1zM430 630h3v1h-3zM436 631h3v1h-3zM442 632h2v1h-2zM444 633h1v1h-1zM448 634h2v1h-2zM450 635h1v1h-1zM454 636h1v1h-1zM455 637h2v1h-2zM460 639h1v1h-1zM461 640h2v1h-2zM466 641h2v1h-2zM468 642h1v1h-1zM472 642h3v1h-3zM478 642h3v1h-3zM484 642h1v1h-1zM485 641h2v1h-2zM490 641h3v1h-3zM496 640h3v1h-3zM502 639h3v1h-3zM508 638h3v1h-3zM514 638h3v1h-3zM520 638h2v1h-2zM522 639h1v1h-1zM526 640h3v1h-3zM532 640h2v1h-2zM534 641h1v1h-1zM538 641h3v1h-3zM544 642h1v1h-1zM545 643h2v1h-2zM550 644h1v1h-1zM551 645h2v1h-2zM556 647h1v1h-1zM557 648h1v1h-1zM558 649h1v1h-1zM562 652h2v1h-2zM564 653h1v1h-1zM568 654h2v1h-2zM570 655h1v1h-1zM574 656h1v1h-1zM575 657h2v1h-2zM580 657h3v1h-3zM586 657h3v1h-3zM592 656h3v1h-3zM598 655h3v1h-3zM604 656h3v1h-3zM610 656h3v1h-3zM616 656h3v1h-3zM622 655h3v1h-3zM628 654h3v1h-3zM634 653h1v1h-1zM635 652h2v1h-2zM640 649h2v1h-2zM642 648h1v1h-1zM646 647h3v1h-3zM652 645h2v1h-2zM654 644h1v1h-1zM658 643h3v1h-3zM664 642h3v1h-3zM670 643h1v1h-1zM671 644h2v1h-2zM676 646h3v1h-3zM682 648h2v1h-2zM684 649h1v1h-1zM688 650h3v1h-3zM694 652h3v1h-3zM700 652h3v1h-3zM706 652h3v1h-3zM712 651h2v1h-2zM714 650h1v1h-1zM718 649h3v1h-3zM724 648h3v1h-3zM730 646h2v1h-2zM732 645h1v1h-1zM736 644h3v1h-3zM742 643h3v1h-3zM748 642h3v1h-3zM754 641h3v1h-3zM760 640h3v1h-3zM766 639h3v1h-3zM772 638h3v1h-3zM778 637h3v1h-3zM784 637h1v1h-1zM785 636h2v1h-2zM790 636h3v1h-3zM796 636h3v1h-3zM802 636h3v1h-3zM808 636h3v1h-3zM814 636h3v1h-3zM820 636h3v1h-3zM826 636h3v1h-3zM832 636h3v1h-3zM838 636h3v1h-3zM844 635h3v1h-3zM850 634h2v1h-2zM852 633h1v1h-1zM856 632h3v1h-3zM862 631h1v1h-1zM863 630h2v1h-2zM868 629h3v1h-3zM874 627h3v1h-3zM880 625h2v1h-2zM882 624h1v1h-1zM886 622h2v1h-2zM888 621h1v1h-1zM892 618h1v1h-1zM893 617h1v1h-1zM894 616h1v1h-1zM898 612h1v1h-1zM899 611h2v1h-2zM904 607h1v1h-1zM905 606h1v1h-1zM906 605h1v1h-1zM910 601h1v1h-1zM911 600h1v1h-1zM912 599h1v1h-1zM916 596h1v1h-1zM917 595h1v1h-1zM918 594h1v1h-1zM922 592h2v1h-2zM924 591h1v1h-1zM928 591h3v1h-3zM934 591h3v1h-3zM940 592h3v1h-3zM946 593h1v1h-1zM947 594h2v1h-2zM952 596h1v1h-1zM953 597h2v1h-2zM958 599h3v1h-3zM964 600h1v1h-1zM965 601h2v1h-2zM970 602h1v1h-1zM971 603h2v1h-2zM976 605h2v1h-2zM978 606h1v1h-1zM982 607h3v1h-3zM988 609h3v1h-3zM994 611h2v1h-2zM996 612h1v1h-1zM1000 614h2v1h-2zM1002 615h1v1h-1zM1006 618h2v1h-2zM1008 619h1v1h-1zM1012 621h1v1h-1zM1013 622h2v1h-2zM1018 624h1v1h-1zM1019 625h2v1h-2zM1024 628h2v1h-2zM1026 629h1v1h-1zM1030 631h1v1h-1zM1031 632h2v1h-2zM1036 633h2v1h-2zM1038 634h1v1h-1zM1042 634h3v1h-3zM1048 635h3v1h-3zM1054 636h3v1h-3zM1060 637h2v1h-2zM1062 636h1v1h-1zM1066 635h3v1h-3zM1072 635h3v1h-3zM1078 635h3v1h-3zM1084 635h3v1h-3zM1090 635h3v1h-3zM1096 635h3v1h-3zM1102 635h3v1h-3zM1108 635h3v1h-3zM1114 634h3v1h-3zM1120 632h2v1h-2zM1122 631h1v1h-1zM1126 630h1v1h-1zM1127 629h2v1h-2zM1132 626h2v1h-2zM1134 625h1v1h-1zM1137 621h1v1h-1zM1138 620h1v1h-1zM1139 619h1v1h-1z" fill="#ff0000"/>
<path d="M5 708h3v1h-3zM11 708h3v1h-3zM17 708h3v1h-3zM23 708h3v1h-3zM29 708h3v1h-3zM35 708h3v1h-3zM41 708h3v1h-3zM47 708h3v1h-3zM53 708h3v1h-3zM59 708h3v1h-3zM65 708h3v1h-3zM71 708h3v1h-3zM77 708h3v1h-3zM83 708h3v1h-3zM89 708h3v1h-3zM95 708h3v1h-3zM101 708h3v1h-3zM107 708h3v1h-3zM113 708h3v1h-3zM119 708h3v1h-3zM125 708h3v1h-3zM131 708h3v1h-3zM137 708h3v1h-3zM143 708h3v1h-3zM149 708h3v1h-3zM155 708h3v1h-3zM161 708h3v1h-3zM167 708h3v1h-3zM173 708h3v1h-3zM179 708h3v1h-3zM185 708h3v1h-3zM191 708h3v1h-3zM197 708h3v1h-3zM203 708h3v1h-3zM209 708h3v1h-3zM215 708h3v1h-3zM221 708h3v1h-3zM227 708h3v1h-3zM233 708h3v1h-3zM239 708h3v1h-3zM245 708h3v1h-3zM251 708h3v1h-3zM257 708h3v1h-3zM263 708h3v1h-3zM269 708h3v1h-3zM275 708h3v1h-3zM281 708h3v1h-3zM287 708h3v1h-3zM293 708h3v1h-3zM299 708h3v1h-3zM305 708h3v1h-3zM311 708h3v1h-3zM317 708h3v1h-3zM323 708h3v1h-3zM329 708h3v1h-3zM335 708h3v1h-3zM341 708h3v1h-3zM347 708h3v1h-3zM353 708h3v1h-3zM359 708h3v1h-3zM365 708h3v1h-3zM371 708h3v1h-3zM377 708h3v1h-3zM383 708h3v1h-3zM389 708h3v1h-3zM395 708h3v1h-3zM401 708h3v1h-3zM407 708h3v1h-3zM413 708h3v1h-3zM419 708h3v1h-3zM425 708h3v1h-3zM431 708h3v1h-3zM437 708h3v1h-3zM443 708h3v1h-3zM449 708h3v1h-3zM455 708h3v1h-3zM461 708h3v1h-3zM467 708h3v1h-3zM473 708h3v1h-3zM479 708h3v1h-3zM485 708h3v1h-3zM491 708h3v1h-3zM497 708h3v1h-3zM503 708h3v1h-3zM509 708h3v1h-3zM515 708h3v1h-3zM521 708h3v1h-3zM527 708h3v1h-3zM533 708h3v1h-3zM539 708h3v1h-3zM545 708h3v1h-3zM551 708h3v1h-3zM557 708h3v1h-3zM563 708h3v1h-3zM569 708h3v1h-3zM575 708h3v1h-3zM581 708h3v1h-3zM587 708h3v1h-3zM593 708h3v1h-3zM599 708h3v1h-3zM605 708h3v1h-3zM611 708h3v1h-3zM617 708h3v1h-3zM623 708h3v1h-3zM629 708h3v1h-3zM635 708h3v1h-3zM641 708h3v1h-3zM647 708h3v1h-3zM653 708h3v1h-3zM659 708h3v1h-3zM665 708h3v1h-3zM671 708h3v1h-3zM677 708h3v1h-3zM683 708h3v1h-3zM689 708h3v1h-3zM695 708h3v1h-3zM701 708h3v1h-3zM707 708h3v1h-3zM713 708h3v1h-3zM719 708h3v1h-3zM725 708h3v1h-3zM731 708h3v1h-3zM737 708h3v1h-3zM743 708h3v1h-3zM749 708h3v1h-3zM755 708h3v1h-3zM761 708h3v1h-3zM767 708h3v1h-3zM773 708h3v1h-3zM779 708h3v1h-3zM785 708h3v1h-3zM791 708h3v1h-3zM797 708h3v1h-3zM803 708h3v1h-3zM809 708h3v1h-3zM815 708h3v1h-3zM821 708h3v1h-3zM827 708h3v1h-3zM833 708h3v1h-3zM839 708h3v1h-3zM845 708h3v1h-3zM851 708h3v1h-3zM857 708h3v1h-3zM863 708h3v1h-3zM869 708h3v1h-3zM875 708h3v1h-3zM881 708h3v1h-3zM887 708h3v1h-3zM893 708h3v1h-3zM899 708h3v1h-3zM905 708h3v1h-3zM911 708h3v1h-3zM917 708h3v1h-3zM923 708h3v1h-3zM929 708h3v1h-3zM935 708h3v1h-3zM941 708h3v1h-3zM947 708h3v1h-3zM953 708h3v1h-3zM959 708h3v1h-3zM965 708h3v1h-3zM971 708h3v1h-3zM977 708h3v1h-3zM983 708h3v1h-3zM989 708h3v1h-3zM995 708h3v1h-3zM1001 708h3v1h-3zM1007 708h3v1h-3zM1013 708h3v1h-3zM1019 708h3v1h-3zM1025 708h3v1h-3zM1031 708h3v1h-3zM1037 708h3v1h-3zM1043 708h3v1h-3zM1049 708h3v1h-3zM1055 708h3v1h-3zM1061 708h3v1h-3zM1067 708h3v1h-3zM1073 708h3v1h-3zM1079 708h3v1h-3zM1085 708h3v1h-3zM1091 708h3v1h-3zM1097 708h3v1h-3zM1103 708h3v1h-3zM1109 708h3v1h-3zM1115 708h3v1h-3zM1121 708h3v1h-3zM1127 708h3v1h-3zM1133 708h3v1h-3zM1139 708h3v1h-3zM1145 708h3v1h-3zM1151 708h3v1h-3zM1157 708h3v1h-3zM1163 708h3v1h-3zM1169 708h3v1h-3zM1175 708h3v1h-3zM1181 708h3v1h-3zM1187 708h3v1h-3zM1193 708h3v1h-3zM1199 708h3v1h-3zM1205 708h3v1h-3zM1211 708h3v1h-3zM1217 708h3v1h-3zM1223 708h3v1h-3zM1229 708h3v1h-3zM1235 708h3v1h-3zM1241 708h3v1h-3zM1247 708h3v1h-3zM1253 708h3v1h-3zM1259 708h3v1h-3zM1265 708h3v1h-3zM1271 708h3v1h-3zM1277 708h3v1h-3zM1283 708h3v1h-3zM1289 708h3v1h-3zM1295 708h3v1h-3zM1301 708h3v1h-3zM1307 708h3v1h-3zM1313 708h3v1h-3zM1319 708h3v1h-3zM1325 708h3v1h-3zM1331 708h3v1h-3zM1337 708h3v1h-3zM1343 708h3v1h-3zM1349 708h3v1h-3zM1355 708h3v1h-3zM1361 708h3v1h-3zM1367 708h3v1h-3zM1373 708h3v1h-3zM1379 708h3v1h-3zM1385 708h3v1h-3zM1391 708h3v1h-3zM1397 708h3v1h-3zM1403 708h3v1h-3zM1409 708h3v1h-3zM1415 708h3v1h-3z" fill="#c0c0c0"/>
<path d="M5 759h3v1h-3zM11 759h3v1h-3zM17 759h3v1h-3zM23 759h3v1h-3zM29 759h3v1h-3zM35 759h3v1h-3zM41 759h3v1h-3zM47 759h3v1h-3zM53 759h3v1h-3zM59 759h3v1h-3zM65 759h3v1h-3zM71 759h3v1h-3zM77 759h3v1h-3zM83 759h3v1h-3zM89 759h3v1h-3zM95 759h3v1h-3zM101 759h3v1h-3zM107 759h3v1h-3zM113 759h3v1h-3zM119 759h3v1h-3zM125 759h3v1h-3zM131 759h3v1h-3zM137 759h3v1h-3zM143 759h3v1h-3zM149 759h3v1h-3zM155 759h3v1h-3zM161 759h3v1h-3zM167 759h3v1h-3zM173 759h3v1h-3zM179 759h3v1h-3zM185 759h3v1h-3zM191 759h3v1h-3zM197 759h3v1h-3zM203 759h3v1h-3zM209 759h3v1h-3zM215 759h3v1h-3zM221 759h3v1h-3zM227 759h3v1h-3zM233 759h3v1h-3zM239 759h3v1h-3zM245 759h3v1h-3zM251 759h3v1h-3zM257 759h3v1h-3zM263 759h3v1h-3zM269 759h3v1h-3zM275 759h3v1h-3zM281 759h3v1h-3zM287 759h3v1h-3zM293 759h3v1h-3zM299 759h3v1h-3zM305 759h3v1h-3zM311 759h3v1h-3zM317 759h3v1h-3zM323 759h3v1h-3zM329 759h3v1h-3zM335 759h3v1h-3zM341 759h3v1h-3zM347 759h3v1h-3zM353 759h3v1h-3zM359 759h3v1h-3zM365 759h3v1h-3zM371 759h3v1h-3zM377 759h3v1h-3zM383 759h3v1h-3zM389 759h3v1h-3zM395 759h3v1h-3zM401 759h3v1h-3zM407 759h3v1h-3zM413 759h3v1h-3zM419 759h3v1h-3zM425 759h3v1h-3zM431 759h3v1h-3zM437 759h3v1h-3zM443 759h3v1h-3zM449 759h3v1h-3zM455 759h3v1h-3zM461 759h3v1h-3zM467 759h3v1h-3zM473 759h3v1h-3zM479 759h3v1h-3zM485 759h3v1h-3zM491 759h3v1h-3zM497 759h3v1h-3zM503 759h3v1h-3zM509 759h3v1h-3zM515 759h3v1h-3zM521 759h3v1h-3zM527 759h3v1h-3zM533 759h3v1h-3zM539 759h3v1h-3zM545 759h3v1h-3zM551 759h3v1h-3zM557 759h3v1h-3zM563 759h3v1h-3zM569 759h3v1h-3zM575 759h3v1h-3zM581 759h3v1h-3zM587 759h3v1h-3zM593 759h3v1h-3zM599 759h3v1h-3zM605 759h3v1h-3zM611 759h3v1h-3zM617 759h3v1h-3zM623 759h3v1h-3zM629 759h3v1h-3zM635 759h3v1h-3zM641 759h3v1h-3zM647 759h3v1h-3zM653 759h3v1h-3zM659 759h3v1h-3zM665 759h3v1h-3zM671 759h3v1h-3zM677 759h3v1h-3zM683 759h3v1h-3zM689 759h3v1h-3zM695 759h3v1h-3zM701 759h3v1h-3zM707 759h3v1h-3zM713 759h3v1h-3zM719 759h3v1h-3zM725 759h3v1h-3zM731 759h3v1h-3zM737 759h3v1h-3zM743 759h3v1h-3zM749 759h3v1h-3zM755 759h3v1h-3zM761 759h3v1h-3zM767 759h3v1h-3zM773 759h3v1h-3zM779 759h3v1h-3zM785 759h3v1h-3zM791 759h3v1h-3zM797 759h3v1h-3zM803 759h3v1h-3zM809 759h3v1h-3zM815 759h3v1h-3zM821 759h3v1h-3zM827 759h3v1h-3zM833 759h3v1h-3zM839 759h3v1h-3zM845 759h3v1h-3zM851 759h3v1h-3zM857 759h3v1h-3zM863 759h3v1h-3zM869 759h3v1h-3zM875 759h3v1h-3zM881 759h3v1h-3zM887 759h3v1h-3zM893 759h3v1h-3zM899 759h3v1h-3zM905 759h3v1h-3zM911 759h3v1h-3zM917 759h3v1h-3zM923 759h3v1h-3zM929 759h3v1h-3zM935 759h3v1h-3zM941 759h3v1h-3zM947 759h3v1h-3zM953 759h3v1h-3zM959 759h3v1h-3zM965 759h3v1h-3zM971 759h3v1h-3zM977 759h3v1h-3zM983 759h3v1h-3zM989 759h3v1h-3zM995 759h3v1h-3zM1001 759h3v1h-3zM1007 759h3v1h-3zM1013 759h3v1h-3zM1019 759h3v1h-3zM1025 759h3v1h-3zM1031 759h3v1h-3zM1037 759h3v1h-3zM1043 759h3v1h-3zM1049 759h3v1h-3zM1055 759h3v1h-3zM1061 759h3v1h-3zM1067 759h3v1h-3zM1073 759h3v1h-3zM1079 759h3v1h-3zM1085 759h3v1h-3zM1091 759h3v1h-3zM1097 759h3v1h-3zM1103 759h3v1h-3zM1109 759h3v1h-3zM1115 759h3v1h-3zM1121 759h3v1h-3zM1127 759h3v1h-3zM1133 759h3v1h-3zM1139 759h3v1h-3zM1145 759h3v1h-3zM1151 759h3v1h-3zM1157 759h3v1h-3zM1163 759h3v1h-3zM1169 759h3v1h-3zM1175 759h3v1h-3zM1181 759h3v1h-3zM1187 759h3v1h-3zM1193 759h3v1h-3zM1199 759h3v1h-3zM1205 759h3v1h-3zM1211 759h3v1h-3zM1217 759h3v1h-3zM1223 759h3v1h-3zM1229 759h3v1h-3zM1235 759h3v1h-3zM1241 759h3v1h-3zM1247 759h3v1h-3zM1253 759h3v1h-3zM1259 759h3v1h-3zM1265 759h3v1h-3zM1271 759h3v1h-3zM1277 759h3v1h-3zM1283 759h3v1h-3zM1289 759h3v1h-3zM1295 759h3v1h-3zM1301 759h3v1h-3zM1307 759h3v1h-3zM1313 759h3v1h-3zM1319 759h3v1h-3zM1325 759h3v1h-3zM1331 759h3v1h-3zM1337 759h3v1h-3zM1343 759h3v1h-3zM1349 759h3v1h-3zM1355 759h3v1h-3zM1361 759h3v1h-3zM1367 759h3v1h-3zM1373 759h3v1h-3zM1379 759h3v1h-3zM1385 759h3v1h-3zM1391 759h3v1h-3zM1397 759h3v1h-3zM1403 759h3v1h-3zM1409 759h3v1h-3zM1415 759h3v1h-3z" fill="#c0c0c0"/>
<path d="M4 704h1v1h-1zM5 703h1v1h-1zM6 702h1v1h-1zM7 701h1v1h-1zM8 700h5v1h-5zM13 699h2v1h-2zM15 698h1v1h-1zM16 697h1v1h-1zM17 696h2v1h-2zM19 695h2v1h-2zM20 694h1v1h-1zM21 696h1v3h-1zM22 699h1v3h-1zM23 702h1v3h-1zM24 706h1v1h-1zM24 705h3v1h-3zM27 704h1v1h-1zM28 703h1v1h-1zM29 704h2v1h-2zM31 705h1v1h-1zM32 706h1v1h-1zM33 705h2v1h-2zM35 704h1v1h-1zM36 703h2v1h-2zM38 702h2v1h-2zM40 701h2v1h-2zM42 700h2v1h-2zM44 699h2v1h-2zM46 698h2v1h-2zM48 697h1v1h-1zM49 696h2v1h-2zM51 695h1v1h-1zM52 694h1v1h-1zM53 695h2v1h-2zM55 696h1v1h-1zM56 697h1v3h-1zM57 700h1v4h-1zM58 704h1v5h-1zM59 709h1v4h-1zM60 714h1v2h-1zM60 713h2v1h-2zM61 712h1v1h-1zM62 710h1v2h-1zM63 708h1v2h-1zM64 707h1v1h-1zM64 706h10v1h-10zM74 707h2v1h-2zM76 708h2v1h-2zM78 707h2v1h-2zM80 706h1v1h-1zM81 705h1v1h-1zM82 703h1v2h-1zM83 702h2v1h-2zM84 701h1v1h-1zM85 703h1v2h-1zM86 705h1v2h-1zM87 707h1v2h-1zM88 709h1v1h-1zM88 710h3v1h-3zM91 709h2v1h-2zM92 710h1v1h-1zM93 711h1v3h-1zM94 714h1v4h-1zM95 718h1v3h-1zM96 722h1v1h-1zM96 721h3v1h-3zM99 720h1v1h-1zM100 719h2v1h-2zM102 718h2v1h-2zM104 717h1v1h-1zM105 716h2v1h-2zM107 715h1v1h-1zM108 714h1v1h-1zM109 713h2v1h-2zM111 712h1v1h-1zM112 711h2v1h-2zM114 710h2v1h-2zM116 709h1v1h-1zM117 708h1v1h-1zM118 707h1v1h-1zM119 706h2v1h-2zM120 705h1v1h-1zM121 707h1v4h-1zM122 711h1v4h-1zM123 715h1v4h-1zM124 719h1v3h-1zM125 722h1v2h-1zM126 724h1v2h-1zM127 726h1v2h-1zM128 728h1v1h-1zM128 729h3v1h-3zM131 728h3v1h-3zM134 729h2v1h-2zM136 730h1v1h-1zM137 729h1v1h-1zM138 728h1v1h-1zM139 727h1v1h-1zM140 726h1v1h-1zM141 725h1v1h-1zM142 723h1v2h-1zM143 722h2v1h-2zM144 721h1v1h-1zM145 723h1v4h-1zM146 727h1v4h-1zM147 731h1v4h-1zM148 735h1v1h-1zM148 736h2v1h-2zM150 737h2v1h-2zM152 738h1v1h-1zM153 737h2v1h-2zM155 736h1v1h-1zM156 735h2v1h-2zM158 734h2v1h-2zM160 733h1v1h-1zM161 731h1v2h-1zM162 729h1v2h-1zM163 727h1v2h-1zM164 726h1v1h-1zM165 727h2v1h-2zM167 728h1v1h-1zM168 729h2v1h-2zM170 730h2v1h-2zM172 731h1v1h-1zM173 730h2v1h-2zM175 729h1v1h-1zM176 728h3v1h-3zM179 729h3v1h-3zM182 730h2v1h-2zM184 731h1v1h-1zM185 730h1v1h-1zM186 728h1v2h-1zM187 727h1v1h-1zM188 726h7v1h-7zM195 725h2v1h-2zM196 726h1v1h-1zM197 727h1v2h-1zM198 729h1v2h-1zM199 731h1v2h-1zM200 733h1v1h-1zM200 734h2v1h-2zM202 733h2v1h-2zM204 732h1v1h-1zM205 730h1v2h-1zM206 729h1v1h-1zM207 727h1v2h-1zM208 726h1v1h-1zM209 725h1v1h-1zM210 724h1v1h-1zM211 723h2v1h-2zM212 722h1v1h-1zM213 724h1v2h-1zM214 726h1v2h-1zM215 728h1v2h-1zM216 730h2v1h-2zM218 731h2v1h-2zM220 732h1v1h-1zM221 733h1v1h-1zM222 734h1v1h-1zM223 735h1v1h-1zM224 736h1v1h-1zM225 735h1v1h-1zM226 734h1v1h-1zM227 733h1v1h-1zM228 732h1v1h-1zM229 731h1v1h-1zM230 730h1v1h-1zM231 729h1v1h-1zM232 728h6v1h-6zM238 727h2v1h-2zM240 726h3v1h-3zM243 725h3v1h-3zM246 726h2v1h-2zM248 727h2v1h-2zM250 726h2v1h-2zM252 725h3v1h-3zM255 726h2v1h-2zM257 725h1v1h-1zM258 724h1v1h-1zM259 723h1v1h-1zM260 722h2v1h-2zM262 723h2v1h-2zM264 724h2v1h-2zM266 723h2v1h-2zM268 722h1v1h-1zM269 720h1v2h-1zM270 719h1v1h-1zM271 717h1v2h-1zM272 716h1v1h-1zM273 717h1v1h-1zM274 718h1v1h-1zM275 719h1v1h-1zM276 720h1v1h-1zM277 719h1v1h-1zM278 718h1v1h-1zM279 717h2v1h-2zM280 716h1v1h-1zM280 718h1v1h-1zM281 719h1v4h-1zM282 723h1v4h-1zM283 727h1v4h-1zM284 732h1v2h-1zM284 731h2v1h-2zM285 730h1v1h-1zM286 728h1v2h-1zM287 726h1v2h-1zM288 725h1v1h-1zM288 724h6v1h-6zM294 725h2v1h-2zM296 726h1v1h-1zM297 725h1v1h-1zM298 724h1v1h-1zM299 723h1v1h-1zM300 722h1v1h-1zM301 721h2v1h-2zM303 720h1v1h-1zM304 719h2v1h-2zM306 720h2v1h-2zM308 721h10v1h-10zM318 720h2v1h-2zM320 719h3v1h-3zM323 718h4v1h-4zM327 717h2v1h-2zM329 716h1v1h-1zM330 715h1v1h-1zM331 714h1v1h-1zM332 713h3v1h-3zM335 712h4v1h-4zM339 711h2v1h-2zM340 712h1v2h-1zM341 714h1v6h-1zM342 720h1v6h-1zM343 726h1v6h-1zM344 732h1v4h-1zM345 736h1v2h-1zM346 738h1v2h-1zM347 740h1v2h-1zM348 743h1v1h-1zM348 742h2v1h-2zM349 741h1v1h-1zM350 740h1v1h-1zM351 738h1v2h-1zM352 737h2v1h-2zM354 736h2v1h-2zM356 735h5v1h-5zM361 734h1v1h-1zM362 732h1v2h-1zM363 731h1v1h-1zM364 730h1v1h-1zM365 729h1v1h-1zM366 728h1v1h-1zM367 727h1v1h-1zM368 726h1v1h-1zM369 725h1v1h-1zM370 723h1v2h-1zM371 722h1v1h-1zM372 721h1v1h-1zM373 722h1v2h-1zM374 724h1v2h-1zM375 726h1v2h-1zM376 728h3v1h-3zM379 729h2v1h-2zM381 730h1v1h-1zM382 731h1v2h-1zM383 733h1v1h-1zM384 734h1v1h-1zM385 735h2v1h-2zM387 736h1v1h-1zM388 737h1v1h-1zM389 736h1v1h-1zM390 735h1v1h-1zM391 734h1v1h-1zM392 733h1v1h-1zM393 732h2v1h-2zM395 731h1v1h-1zM396 730h1v1h-1zM397 731h1v1h-1zM398 732h1v1h-1zM399 733h1v1h-1zM400 734h5v1h-5zM405 733h1v1h-1zM406 731h1v2h-1zM407 730h1v1h-1zM408 729h3v1h-3zM411 728h3v1h-3zM414 727h2v1h-2zM416 726h1v1h-1zM417 727h1v1h-1zM418 728h1v2h-1zM419 730h1v1h-1zM420 731h2v1h-2zM422 732h2v1h-2zM424 733h1v1h-1zM425 732h1v1h-1zM426 730h1v2h-1zM427 729h2v1h-2zM428 728h1v1h-1zM428 730h1v2h-1zM429 732h1v6h-1zM430 738h1v6h-1zM431 744h1v6h-1zM432 750h1v3h-1zM433 753h1v1h-1zM434 754h1v1h-1zM435 755h1v1h-1zM436 756h1v1h-1zM437 754h1v2h-1zM438 753h1v1h-1zM439 751h1v2h-1zM440 750h1v1h-1zM441 749h1v1h-1zM442 748h1v1h-1zM443 747h1v1h-1zM444 746h2v1h-2zM446 745h2v1h-2zM448 743h1v2h-1zM449 741h1v2h-1zM450 739h1v2h-1zM451 737h1v2h-1zM452 735h1v1h-1zM452 736h2v1h-2zM453 737h1v1h-1zM454 738h1v1h-1zM455 739h1v2h-1zM456 741h1v1h-1zM457 742h1v1h-1zM458 743h1v2h-1zM459 745h1v1h-1zM460 746h1v1h-1zM461 745h2v1h-2zM463 744h1v1h-1zM464 743h1v1h-1zM465 741h1v2h-1zM466 739h1v2h-1zM467 737h1v2h-1zM468 736h3v1h-3zM471 737h3v1h-3zM474 738h2v1h-2zM476 739h1v1h-1zM477 738h1v1h-1zM478 737h1v1h-1zM479 736h1v1h-1zM480 735h2v1h-2zM482 736h2v1h-2zM484 737h1v1h-1zM485 735h1v2h-1zM486 734h1v1h-1zM487 732h1v2h-1zM488 731h1v1h-1zM489 732h1v1h-1zM490 733h1v1h-1zM491 734h1v1h-1zM492 735h2v1h-2zM494 736h2v1h-2zM496 737h3v1h-3zM499 738h2v1h-2zM501 739h1v1h-1zM502 740h1v1h-1zM503 741h1v1h-1zM504 742h3v1h-3zM507 741h2v1h-2zM509 742h2v1h-2zM511 743h1v1h-1zM512 744h2v1h-2zM514 745h2v1h-2zM516 746h1v1h-1zM517 744h1v2h-1zM518 742h1v2h-1zM519 740h1v2h-1zM520 739h5v1h-5zM525 740h1v1h-1zM526 741h1v2h-1zM527 743h1v1h-1zM528 744h1v1h-1zM529 745h1v2h-1zM530 747h1v1h-1zM531 748h1v2h-1zM532 750h2v1h-2zM534 749h3v1h-3zM536 748h1v1h-1zM537 750h1v2h-1zM538 752h1v3h-1zM539 755h1v2h-1zM540 757h1v2h-1zM541 759h2v1h-2zM543 760h1v1h-1zM544 761h1v1h-1zM545 762h1v1h-1zM546 763h1v2h-1zM547 765h1v1h-1zM548 766h5v1h-5zM553 765h1v1h-1zM554 763h1v2h-1zM555 762h1v1h-1zM556 761h2v1h-2zM558 762h3v1h-3zM560 763h1v1h-1zM561 760h1v2h-1zM562 758h1v2h-1zM563 756h1v2h-1zM564 753h1v3h-1zM565 751h1v2h-1zM566 748h1v3h-1zM567 746h1v2h-1zM568 745h1v1h-1zM568 744h3v1h-3zM571 745h2v1h-2zM573 744h1v1h-1zM574 743h1v1h-1zM575 742h1v1h-1zM576 741h1v1h-1zM577 742h1v1h-1zM578 743h1v2h-1zM579 745h1v1h-1zM580 746h2v1h-2zM582 745h3v1h-3zM584 744h1v1h-1zM585 746h1v2h-1zM586 748h1v3h-1zM587 751h1v2h-1zM588 753h1v1h-1zM588 754h6v1h-6zM594 755h2v1h-2zM596 756h1v1h-1zM597 757h1v2h-1zM598 759h1v2h-1zM599 761h1v2h-1zM600 763h3v1h-3zM603 762h2v1h-2zM604 760h1v2h-1zM605 756h1v4h-1zM606 751h1v5h-1zM607 747h1v4h-1zM608 744h1v3h-1zM609 743h1v1h-1zM610 741h1v2h-1zM611 740h1v1h-1zM612 739h1v1h-1zM613 740h1v1h-1zM614 741h1v1h-1zM615 742h1v1h-1zM616 743h1v1h-1zM617 742h1v1h-1zM618 741h1v1h-1zM619 740h1v1h-1zM620 739h1v1h-1zM621 738h2v1h-2zM623 737h1v1h-1zM624 736h5v1h-5zM629 735h1v1h-1zM630 734h1v1h-1zM631 733h1v1h-1zM632 732h1v1h-1zM633 733h1v2h-1zM634 735h1v2h-1zM635 737h1v2h-1zM636 739h1v1h-1zM637 738h2v1h-2zM639 737h1v1h-1zM640 736h3v1h-3zM643 737h4v1h-4zM647 738h4v1h-4zM651 739h2v1h-2zM653 740h1v2h-1zM654 742h1v2h-1zM655 744h1v2h-1zM656 746h1v1h-1zM657 747h1v2h-1zM658 749h1v1h-1zM659 750h1v2h-1zM660 752h1v1h-1zM661 751h1v1h-1zM662 750h1v1h-1zM663 749h1v1h-1zM664 748h1v1h-1zM665 749h1v2h-1zM666 751h1v1h-1zM667 752h1v2h-1zM668 754h2v1h-2zM670 755h2v1h-2zM672 756h6v1h-6zM678 757h3v1h-3zM680 758h1v1h-1zM681 755h1v2h-1zM682 753h1v2h-1zM683 751h1v2h-1zM684 750h1v1h-1zM685 748h1v2h-1zM686 746h1v2h-1zM687 744h1v2h-1zM688 743h3v1h-3zM691 744h3v1h-3zM694 745h2v1h-2zM696 746h1v1h-1zM697 745h2v1h-2zM699 744h1v1h-1zM700 743h1v1h-1zM701 741h1v2h-1zM702 739h1v2h-1zM703 737h1v2h-1zM704 736h7v1h-7zM711 737h2v1h-2zM713 738h1v2h-1zM714 740h1v1h-1zM715 741h1v2h-1zM716 743h2v1h-2zM718 744h2v1h-2zM720 745h1v1h-1zM721 743h1v2h-1zM722 741h1v2h-1zM723 739h1v2h-1zM724 738h2v1h-2zM726 739h2v1h-2zM728 740h2v1h-2zM730 739h2v1h-2zM732 738h5v1h-5zM736 739h1v1h-1zM737 740h1v3h-1zM738 743h1v2h-1zM739 745h1v3h-1zM740 748h1v2h-1zM741 746h1v2h-1zM742 743h1v3h-1zM743 741h1v2h-1zM744 739h1v2h-1zM745 738h1v1h-1zM746 736h1v2h-1zM747 735h1v1h-1zM748 734h1v1h-1zM749 735h2v1h-2zM751 736h1v1h-1zM752 737h2v1h-2zM754 736h2v1h-2zM756 735h1v1h-1zM757 734h1v1h-1zM758 732h1v2h-1zM759 731h1v1h-1zM760 730h5v1h-5zM765 731h1v1h-1zM766 732h1v2h-1zM767 734h1v1h-1zM768 735h6v1h-6zM774 734h2v1h-2zM776 733h1v1h-1zM777 734h1v1h-1zM778 735h1v2h-1zM779 737h1v1h-1zM780 738h6v1h-6zM786 739h2v1h-2zM788 740h1v1h-1zM789 739h1v1h-1zM790 738h1v1h-1zM791 737h1v1h-1zM792 736h9v1h-9zM801 735h1v1h-1zM802 734h1v1h-1zM803 733h2v1h-2zM804 732h1v1h-1zM805 734h1v2h-1zM806 736h1v2h-1zM807 738h1v2h-1zM808 740h2v1h-2zM810 741h2v1h-2zM812 742h1v1h-1zM813 741h1v1h-1zM814 739h1v2h-1zM815 738h2v1h-2zM816 737h1v1h-1zM817 739h1v3h-1zM818 742h1v4h-1zM819 746h1v3h-1zM820 749h1v2h-1zM821 746h1v3h-1zM822 744h1v2h-1zM823 741h1v3h-1zM824 739h1v2h-1zM825 738h1v1h-1zM826 737h1v1h-1zM827 736h1v1h-1zM828 735h1v1h-1zM829 734h1v1h-1zM830 732h1v2h-1zM831 731h1v1h-1zM832 730h1v1h-1zM833 729h2v1h-2zM835 728h1v1h-1zM836 727h1v1h-1zM837 726h1v1h-1zM838 724h1v2h-1zM839 723h1v1h-1zM840 722h1v1h-1zM841 723h1v1h-1zM842 724h1v1h-1zM843 725h1v1h-1zM844 726h7v1h-7zM851 727h2v1h-2zM853 728h2v1h-2zM855 729h1v1h-1zM856 730h1v1h-1zM857 728h1v2h-1zM858 727h1v1h-1zM859 725h1v2h-1zM860 724h1v1h-1zM861 725h1v1h-1zM862 726h1v1h-1zM863 727h2v1h-2zM864 726h1v1h-1zM864 728h1v1h-1zM865 722h1v4h-1zM866 718h1v4h-1zM867 714h1v4h-1zM868 713h1v1h-1zM868 712h2v1h-2zM870 711h2v1h-2zM872 710h2v1h-2zM874 709h2v1h-2zM876 708h1v1h-1zM877 706h1v2h-1zM878 705h1v1h-1zM879 703h1v2h-1zM880 702h2v1h-2zM882 701h2v1h-2zM884 699h1v2h-1zM885 697h1v2h-1zM886 695h1v2h-1zM887 693h1v2h-1zM888 692h1v1h-1zM889 693h1v1h-1zM890 694h1v1h-1zM891 695h1v1h-1zM892 696h5v1h-5zM897 695h2v1h-2zM899 694h1v1h-1zM900 693h3v1h-3zM903 692h2v1h-2zM905 693h1v1h-1zM906 694h1v2h-1zM907 696h1v1h-1zM908 697h1v1h-1zM909 698h2v1h-2zM911 699h1v1h-1zM912 700h2v1h-2zM914 699h2v1h-2zM916 698h1v1h-1zM917 699h1v1h-1zM918 700h1v2h-1zM919 702h1v1h-1zM920 703h1v1h-1zM921 704h1v2h-1zM922 706h1v1h-1zM923 707h1v2h-1zM924 709h2v1h-2zM926 710h2v1h-2zM928 711h2v1h-2zM930 710h2v1h-2zM932 709h2v1h-2zM934 708h2v1h-2zM936 707h2v1h-2zM938 706h2v1h-2zM940 705h3v1h-3zM943 706h2v1h-2zM944 707h1v1h-1zM945 708h1v2h-1zM946 710h1v2h-1zM947 712h1v2h-1zM948 714h1v1h-1zM948 715h3v1h-3zM951 714h3v1h-3zM954 713h2v1h-2zM956 712h5v1h-5zM961 711h1v1h-1zM962 710h1v1h-1zM963 709h1v1h-1zM964 708h5v1h-5zM968 709h1v1h-1zM969 710h1v3h-1zM970 713h1v2h-1zM971 715h1v3h-1zM972 718h1v1h-1zM972 719h3v1h-3zM975 718h4v1h-4zM979 717h4v1h-4zM983 716h3v1h-3zM986 717h2v1h-2zM988 718h1v3h-1zM989 721h1v5h-1zM990 726h1v4h-1zM991 730h1v5h-1zM992 735h1v2h-1zM992 737h2v1h-2zM994 738h2v1h-2zM996 739h1v2h-1zM997 741h1v3h-1zM998 744h1v2h-1zM999 746h1v3h-1zM1000 749h1v1h-1zM1000 750h2v1h-2zM1002 749h2v1h-2zM1004 748h1v1h-1zM1005 746h1v2h-1zM1006 745h1v1h-1zM1007 743h1v2h-1zM1008 742h1v1h-1zM1009 741h1v1h-1zM1010 740h1v1h-1zM1011 739h1v1h-1zM1012 738h3v1h-3zM1015 739h2v1h-2zM1017 740h1v1h-1zM1018 741h1v1h-1zM1019 742h1v1h-1zM1020 743h3v1h-3zM1023 744h2v1h-2zM1025 745h1v1h-1zM1026 746h1v2h-1zM1027 748h2v1h-2zM1028 749h1v1h-1zM1029 745h1v3h-1zM1030 742h1v3h-1zM1031 739h1v3h-1zM1032 738h1v1h-1zM1032 737h3v1h-3zM1035 736h2v1h-2zM1037 737h1v1h-1zM1038 738h1v1h-1zM1039 739h2v1h-2zM1040 740h1v1h-1zM1041 737h1v2h-1zM1042 735h1v2h-1zM1043 733h1v2h-1zM1044 732h1v1h-1zM1044 731h2v1h-2zM1046 732h2v1h-2zM1048 733h3v1h-3zM1051 732h2v1h-2zM1052 733h1v1h-1zM1053 734h1v2h-1zM1054 736h1v2h-1zM1055 738h1v2h-1zM1056 740h3v1h-3zM1059 739h3v1h-3zM1062 738h2v1h-2zM1064 737h1v1h-1zM1065 738h2v1h-2zM1067 739h1v1h-1zM1068 740h1v1h-1zM1069 739h1v1h-1zM1070 738h1v1h-1zM1071 737h1v1h-1zM1072 736h2v1h-2zM1074 737h2v1h-2zM1076 738h2v1h-2zM1078 739h2v1h-2zM1080 740h1v1h-1zM1081 739h1v1h-1zM1082 737h1v2h-1zM1083 736h1v1h-1zM1084 735h3v1h-3zM1087 734h4v1h-4zM1091 733h2v1h-2zM1093 734h1v2h-1zM1094 736h1v1h-1zM1095 737h1v2h-1zM1096 739h2v1h-2zM1098 740h2v1h-2zM1100 741h1v1h-1zM1101 739h1v2h-1zM1102 738h1v1h-1zM1103 736h1v2h-1zM1104 734h1v2h-1zM1105 732h1v2h-1zM1106 730h1v2h-1zM1107 728h1v2h-1zM1108 727h3v1h-3zM1111 728h2v1h-2zM1112 727h1v1h-1zM1113 725h1v2h-1zM1114 723h1v2h-1zM1115 721h1v2h-1zM1116 718h1v3h-1zM1117 714h1v4h-1zM1118 709h1v5h-1zM1119 705h1v4h-1zM1120 703h1v2h-1zM1120 702h2v1h-2zM1122 701h2v1h-2zM1124 698h1v3h-1zM1125 694h1v4h-1zM1126 690h1v4h-1zM1127 688h1v2h-1zM1127 686h2v2h-2zM1128 684h1v2h-1zM1129 688h1v6h-1zM1130 694h1v6h-1zM1131 700h1v6h-1zM1132 706h1v2h-1zM1132 709h1v1h-1zM1132 708h2v1h-2zM1134 707h1v1h-1zM1135 706h1v1h-1zM1136 705h1v1h-1zM1137 706h2v1h-2zM1139 707h1v1h-1zM1140 708h1v1h-1z" fill="#1e90ff"/>
<rect x="4" y="793" width="1" height="1" fill="#c0c0c0"/>
<rect x="4" y="794" width="2" height="1" fill="#c0c0c0"/>
<rect x="4" y="795" width="3" height="1" fill="#c0c0c0"/>
<rect x="4" y="796" width="4" height="1" fill="#c0c0c0"/>
<rect x="4" y="797" width="5" height="1" fill="#c0c0c0"/>
<rect x="3" y="22" width="1417" height="1" fill="#000"/>
<rect x="3" y="561" width="1417" height="1" fill="#000"/>
<rect x="3" y="22" width="1" height="540" fill="#000"/>
<rect x="1419" y="22" width="1" height="540" fill="#000"/>
<rect x="3" y="563" width="1417" height="1" fill="#000"/>
<rect x="3" y="666" width="1417" height="1" fill="#000"/>
<rect x="3" y="563" width="1" height="104" fill="#000"/>
<rect x="1419" y="563" width="1" height="104" fill="#000"/>
<rect x="3" y="668" width="1417" height="1" fill="#000"/>
<rect x="3" y="798" width="1417" height="1" fill="#000"/>
<rect x="3" y="668" width="1" height="131" fill="#000"/>
<rect x="1419" y="668" width="1" height="131" fill="#000"/>
<rect x="1419" y="114" width="2" height="1" fill="#c0c0c0"/>
<rect x="1419" y="346" width="2" height="3" fill="#0000ff"/>
<rect x="1413" y="269" width="7" height="7" fill="#0000cd"/>
<rect x="1420" y="271" width="1" height="3" fill="#0000cd"/>
<rect x="1416" y="272" width="1" height="1" fill="#fff"/>
<rect x="1413" y="175" width="7" height="7" fill="#00ff00"/>
<rect x="1420" y="177" width="1" height="3" fill="#00ff00"/>
<rect x="1416" y="178" width="1" height="1" fill="#fff"/>
<rect x="1413" y="76" width="7" height="7" fill="#ff0000"/>
<rect x="1420" y="78" width="1" height="3" fill="#ff0000"/>
<rect x="1416" y="79" width="1" height="1" fill="#fff"/>
<rect x="3" y="269" width="7" height="7" fill="#0000cd"/>
<rect x="6" y="272" width="1" height="1" fill="#fff"/>
<rect x="3" y="175" width="7" height="7" fill="#00ff00"/>
<rect x="6" y="178" width="1" height="1" fill="#fff"/>
<rect x="3" y="76" width="7" height="7" fill="#ff0000"/>
<rect x="6" y="79" width="1" height="1" fill="#fff"/>
<rect x="3" y="346" width="1" height="3" fill="#0000ff"/>
<rect x="1420" y="30" width="2" height="1" fill="#000"/>
<rect x="1420" y="63" width="2" height="1" fill="#000"/>
<rect x="1420" y="96" width="2" height="1" fill="#000"/>
<rect x="1420" y="129" width="2" height="1" fill="#000"/>
<rect x="1420" y="162" width="2" height="1" fill="#000"/>
<rect x="1420" y="195" width="2" height="1" fill="#000"/>
<rect x="1420" y="228" width="2" height="1" fill="#000"/>
<rect x="1420" y="261" width="2" height="1" fill="#000"/>
<rect x="1420" y="294" width="2" height="1" fill="#000"/>
<rect x="1420" y="327" width="2" height="1" fill="#000"/>
<rect x="1420" y="360" width="2" height="1" fill="#000"/>
<rect x="1420" y="393" width="2" height="1" fill="#000"/>
<rect x="1420" y="426" width="2" height="1" fill="#000"/>
<rect x="1420" y="459" width="2" height="1" fill="#000"/>
<rect x="1420" y="492" width="2" height="1" fill="#000"/>
<rect x="1420" y="525" width="2" height="1" fill="#000"/>
<rect x="1420" y="558" width="2" height="1" fill="#000"/>
<rect x="1420" y="565" width="1" height="1" fill="#000"/>
<rect x="1420" y="632" width="1" height="1" fill="#000"/>
<rect x="1420" y="665" width="1" height="1" fill="#000"/>
<rect x="1420" y="670" width="1" height="1" fill="#000"/>
<rect x="1420" y="797" width="1" height="1" fill="#000"/>
<rect x="4" y="799" width="1" height="2" fill="#000"/>
<rect x="68" y="799" width="1" height="2" fill="#000"/>
<rect x="132" y="799" width="1" height="2" fill="#000"/>
<rect x="196" y="799" width="1" height="2" fill="#000"/>
<rect x="260" y="799" width="1" height="2" fill="#000"/>
<rect x="324" y="799" width="1" height="2" fill="#000"/>
<rect x="388" y="799" width="1" height="2" fill="#000"/>
<rect x="452" y="799" width="1" height="2" fill="#000"/>
<rect x="516" y="799" width="1" height="2" fill="#000"/>
<rect x="580" y="799" width="1" height="2" fill="#000"/>
<rect x="644" y="799" width="1" height="2" fill="#000"/>
<rect x="708" y="799" width="1" height="2" fill="#000"/>
<rect x="772" y="799" width="1" height="2" fill="#000"/>
<rect x="836" y="799" width="1" height="2" fill="#000"/>
<rect x="900" y="799" width="1" height="2" fill="#000"/>
<rect x="964" y="799" width="1" height="2" fill="#000"/>
<rect x="1028" y="799" width="1" height="2" fill="#000"/>
<rect x="1092" y="799" width="1" height="2" fill="#000"/>
<rect x="1421" y="73" width="37" height="11" fill="#ff0000"/>
<rect x="1421" y="109" width="37" height="11" fill="#000"/>
<rect x="1421" y="172" width="37" height="11" fill="#00ff00"/>
<rect x="1421" y="266" width="37" height="11" fill="#0000cd"/>
<rect x="1421" y="341" width="37" height="11" fill="#0000ff"/>
</svg>

<div class="abs" style="left:5px;top:40px;width:223px;height:68px;background:#fff"></div>
<svg class="abs" style="left:7px;top:29px" width="7" height="5" shape-rendering="crispEdges"><path d="M3 0h1v1h-1zM2 1h3v1h-3zM1 2h5v1h-5zM0 3h7v1h-7z" fill="#000"/></svg>
<div class="abs" style="left:7px;top:42px;width:52px;height:24px;background:linear-gradient(#ff5252,#e03434);box-shadow:inset 1px 1px 0 rgba(150,0,0,.35),inset -1px 0 0 rgba(150,0,0,.35)"></div>
<div class="abs" style="left:174px;top:42px;width:52px;height:24px;background:linear-gradient(#ff5252,#e03434);box-shadow:inset 1px 1px 0 rgba(150,0,0,.35),inset -1px 0 0 rgba(150,0,0,.35)"></div>
<div class="abs" style="left:7px;top:66px;width:109px;height:40px;background:linear-gradient(#e03434,#b00000);box-shadow:inset 1px -1px 0 rgba(150,0,0,.35),inset -1px 0 0 rgba(150,0,0,.35)"></div>
<div class="abs" style="left:59px;top:66px;width:57px;height:1px;background:rgba(150,0,0,.35)"></div>
<div class="abs" style="left:118px;top:66px;width:108px;height:40px;background:linear-gradient(#e03434,#b00000);box-shadow:inset 1px -1px 0 rgba(150,0,0,.35),inset -1px 0 0 rgba(150,0,0,.35)"></div>
<div class="abs" style="left:118px;top:66px;width:56px;height:1px;background:rgba(150,0,0,.35)"></div>
<div class="abs" style="left:11px;top:65px;width:45px;height:1px;background:#8a0a0a"></div>
<div class="abs" style="left:11px;top:66px;width:45px;height:1px;background:#f07070"></div>
<div class="abs" style="left:178px;top:65px;width:44px;height:1px;background:#8a0a0a"></div>
<div class="abs" style="left:178px;top:66px;width:44px;height:1px;background:#f07070"></div>
<div class="abs" style="left:61px;top:42px;width:109px;height:20px;background:#fff;border:1px solid #b4b8c4"></div>
<div class="abs" style="left:62px;top:43px;width:20px;height:20px;background:linear-gradient(#ececec 0,#e4e4e4 45%,#d0d0d0 55%,#c8c8c8 100%);border-right:1px solid #b4b8c4"></div>
<div class="abs" style="left:151px;top:43px;width:20px;height:20px;background:linear-gradient(#ececec 0,#e4e4e4 45%,#d0d0d0 55%,#c8c8c8 100%);border-left:1px solid #b4b8c4;box-sizing:border-box"></div>
<svg class="abs" style="left:69px;top:51px" width="5" height="3" shape-rendering="crispEdges"><path d="M0 0h5v1h-5zM1 1h3v1h-3zM2 2h1v1h-1z" fill="#4a64c0"/></svg>
<svg class="abs" style="left:158px;top:51px" width="5" height="3" shape-rendering="crispEdges"><path d="M2 0h1v1h-1zM1 1h3v1h-3zM0 2h5v1h-5z" fill="#4a64c0"/></svg>
<div class="t" style="left:19.4px;top:47px;font-size:12.4px;transform:scaleX(0.845);color:#fff;line-height:15px;height:15px">SELL</div>
<div class="t" style="left:187.4px;top:47px;font-size:12.4px;transform:scaleX(0.91);color:#fff;line-height:15px;height:15px">BUY</div>
<div class="t" style="left:123px;top:46px;font-size:12.2px;color:#000;line-height:15px;height:15px">1.00</div>
<div class="t" style="left:27px;top:86px;font-size:12px;font-weight:700;color:#fff;line-height:15px;height:15px">7.06</div>
<div class="t" style="left:137px;top:86px;letter-spacing:0.3px;font-size:12px;font-weight:700;color:#fff;line-height:15px;height:15px">7.07</div>
<div class="t" style="left:54.5px;top:67px;font-size:33px;color:#fff;line-height:36px;height:36px;transform:scaleX(0.94);transform-origin:0 0">91</div>
<div class="t" style="left:165px;top:67px;font-size:33px;color:#fff;line-height:36px;height:36px;transform:scaleX(0.94);transform-origin:0 0">18</div>
<div class="t" style="left:94px;top:70px;font-size:12px;font-weight:700;color:#fff;line-height:15px;height:15px">3</div>
<div class="t" style="left:205.5px;top:70px;font-size:12px;font-weight:700;color:#fff;line-height:15px;height:15px">5</div>

<div class="t" style="left:1425px;top:25px;font-size:9.8px;color:#000;font-weight:400;-webkit-text-stroke:0.2px #000;transform:scaleX(0.9316);">7.15830</div>
<div class="t" style="left:1425px;top:58px;font-size:9.8px;color:#000;font-weight:400;-webkit-text-stroke:0.2px #000;transform:scaleX(0.9316);">7.12365</div>
<div class="t" style="left:1425px;top:91px;font-size:9.8px;color:#000;font-weight:400;-webkit-text-stroke:0.2px #000;transform:scaleX(0.9316);">7.08795</div>
<div class="t" style="left:1425px;top:124px;font-size:9.8px;color:#000;font-weight:400;-webkit-text-stroke:0.2px #000;transform:scaleX(0.9316);">7.05330</div>
<div class="t" style="left:1425px;top:157px;font-size:9.8px;color:#000;font-weight:400;-webkit-text-stroke:0.2px #000;transform:scaleX(0.9316);">7.01760</div>
<div class="t" style="left:1425px;top:190px;font-size:9.8px;color:#000;font-weight:400;-webkit-text-stroke:0.2px #000;transform:scaleX(0.9316);">6.98295</div>
<div class="t" style="left:1425px;top:223px;font-size:9.8px;color:#000;font-weight:400;-webkit-text-stroke:0.2px #000;transform:scaleX(0.9316);">6.94725</div>
<div class="t" style="left:1425px;top:256px;font-size:9.8px;color:#000;font-weight:400;-webkit-text-stroke:0.2px #000;transform:scaleX(0.9316);">6.91260</div>
<div class="t" style="left:1425px;top:289px;font-size:9.8px;color:#000;font-weight:400;-webkit-text-stroke:0.2px #000;transform:scaleX(0.9316);">6.87690</div>
<div class="t" style="left:1425px;top:322px;font-size:9.8px;color:#000;font-weight:400;-webkit-text-stroke:0.2px #000;transform:scaleX(0.9316);">6.84225</div>
<div class="t" style="left:1425px;top:355px;font-size:9.8px;color:#000;font-weight:400;-webkit-text-stroke:0.2px #000;transform:scaleX(0.9316);">6.80655</div>
<div class="t" style="left:1425px;top:388px;font-size:9.8px;color:#000;font-weight:400;-webkit-text-stroke:0.2px #000;transform:scaleX(0.9316);">6.77190</div>
<div class="t" style="left:1425px;top:421px;font-size:9.8px;color:#000;font-weight:400;-webkit-text-stroke:0.2px #000;transform:scaleX(0.9316);">6.73620</div>
<div class="t" style="left:1425px;top:454px;font-size:9.8px;color:#000;font-weight:400;-webkit-text-stroke:0.2px #000;transform:scaleX(0.9316);">6.70155</div>
<div class="t" style="left:1425px;top:487px;font-size:9.8px;color:#000;font-weight:400;-webkit-text-stroke:0.2px #000;transform:scaleX(0.9316);">6.66585</div>
<div class="t" style="left:1425px;top:520px;font-size:9.8px;color:#000;font-weight:400;-webkit-text-stroke:0.2px #000;transform:scaleX(0.9316);">6.63120</div>
<div class="t" style="left:1425px;top:553px;font-size:9.8px;color:#000;font-weight:400;-webkit-text-stroke:0.2px #000;transform:scaleX(0.9316);">6.59655</div>
<div class="t" style="left:1425px;top:74px;font-size:9.8px;color:#fff;font-weight:400;-webkit-text-stroke:0.12px #fff;transform:scaleX(0.9316);">7.10651</div>
<div class="t" style="left:1425px;top:109px;font-size:9.8px;color:#fff;font-weight:400;-webkit-text-stroke:0.12px #fff;transform:scaleX(0.9316);">7.06913</div>
<div class="t" style="left:1425px;top:173px;font-size:9.8px;color:#fff;font-weight:400;-webkit-text-stroke:0.12px #fff;transform:scaleX(0.9316);">7.00068</div>
<div class="t" style="left:1425px;top:267px;font-size:9.8px;color:#fff;font-weight:400;-webkit-text-stroke:0.12px #fff;transform:scaleX(0.9316);">6.90100</div>
<div class="t" style="left:1425px;top:342px;font-size:9.8px;color:#fff;font-weight:400;-webkit-text-stroke:0.12px #fff;transform:scaleX(0.9316);">6.82103</div>
<div class="t" style="left:1423px;top:565px;font-size:9.8px;color:#000;font-weight:400;-webkit-text-stroke:0.2px #000;transform:scaleX(0.9297);">0.085164</div>
<div class="t" style="left:1423px;top:627px;font-size:9.8px;color:#000;font-weight:400;-webkit-text-stroke:0.2px #000;transform:scaleX(0.9435);">0.00</div>
<div class="t" style="left:1423px;top:654px;font-size:9.8px;color:#000;font-weight:400;-webkit-text-stroke:0.2px #000;transform:scaleX(0.9292);">-0.041599</div>
<div class="t" style="left:1423.5px;top:670px;font-size:9.8px;color:#000;font-weight:400;-webkit-text-stroke:0.2px #000;transform:scaleX(0.9169);">100</div>
<div class="t" style="left:1423px;top:703px;font-size:9.8px;color:#000;font-weight:400;-webkit-text-stroke:0.2px #000;transform:scaleX(0.9169);">70</div>
<div class="t" style="left:1423px;top:754px;font-size:9.8px;color:#000;font-weight:400;-webkit-text-stroke:0.2px #000;transform:scaleX(0.9169);">30</div>
<div class="t" style="left:1423.5px;top:786px;font-size:9.8px;color:#000;font-weight:400;-webkit-text-stroke:0.2px #000;transform:scaleX(0.9169);">0</div>
<div class="t" style="left:3px;top:802px;font-size:9.8px;color:#000;font-weight:400;-webkit-text-stroke:0.2px #000;transform:scaleX(0.9288);">4 Jul 2018</div>
<div class="t" style="left:67px;top:802px;font-size:9.8px;color:#000;font-weight:400;-webkit-text-stroke:0.2px #000;transform:scaleX(0.9275);">27 Jul 2018</div>
<div class="t" style="left:131px;top:802px;font-size:9.8px;color:#000;font-weight:400;-webkit-text-stroke:0.2px #000;transform:scaleX(0.9631);">20 Aug 2018</div>
<div class="t" style="left:195px;top:802px;font-size:9.8px;color:#000;font-weight:400;-webkit-text-stroke:0.2px #000;transform:scaleX(0.9390);">11 Sep 2018</div>
<div class="t" style="left:259px;top:802px;font-size:9.8px;color:#000;font-weight:400;-webkit-text-stroke:0.2px #000;transform:scaleX(0.9492);">3 Oct 2018</div>
<div class="t" style="left:323px;top:802px;font-size:9.8px;color:#000;font-weight:400;-webkit-text-stroke:0.2px #000;transform:scaleX(0.9552);">25 Oct 2018</div>
<div class="t" style="left:387px;top:802px;font-size:9.8px;color:#000;font-weight:400;-webkit-text-stroke:0.2px #000;transform:scaleX(0.9629);">16 Nov 2018</div>
<div class="t" style="left:451px;top:802px;font-size:9.8px;color:#000;font-weight:400;-webkit-text-stroke:0.2px #000;transform:scaleX(0.9269);">10 Dec 2018</div>
<div class="t" style="left:515px;top:802px;font-size:9.8px;color:#000;font-weight:400;-webkit-text-stroke:0.2px #000;transform:scaleX(0.9075);">1 Jan 2019</div>
<div class="t" style="left:579px;top:802px;font-size:9.8px;color:#000;font-weight:400;-webkit-text-stroke:0.2px #000;transform:scaleX(0.9177);">23 Jan 2019</div>
<div class="t" style="left:643px;top:802px;font-size:9.8px;color:#000;font-weight:400;-webkit-text-stroke:0.2px #000;transform:scaleX(0.9358);">14 Feb 2019</div>
<div class="t" style="left:707px;top:802px;font-size:9.8px;color:#000;font-weight:400;-webkit-text-stroke:0.2px #000;transform:scaleX(0.9584);">8 Mar 2019</div>
<div class="t" style="left:771px;top:802px;font-size:9.8px;color:#000;font-weight:400;-webkit-text-stroke:0.2px #000;transform:scaleX(0.9703);">1 Apr 2019</div>
<div class="t" style="left:835px;top:802px;font-size:9.8px;color:#000;font-weight:400;-webkit-text-stroke:0.2px #000;transform:scaleX(0.9556);">24 Apr 2019</div>
<div class="t" style="left:899px;top:802px;font-size:9.8px;color:#000;font-weight:400;-webkit-text-stroke:0.2px #000;transform:scaleX(0.9708);">16 May 2019</div>
<div class="t" style="left:963px;top:802px;font-size:9.8px;color:#000;font-weight:400;-webkit-text-stroke:0.2px #000;transform:scaleX(0.9178);">7 Jun 2019</div>
<div class="t" style="left:1027px;top:802px;font-size:9.8px;color:#000;font-weight:400;-webkit-text-stroke:0.2px #000;transform:scaleX(0.9178);">1 Jul 2019</div>
<div class="t" style="left:1091px;top:802px;font-size:9.8px;color:#000;font-weight:400;-webkit-text-stroke:0.2px #000;transform:scaleX(0.9177);">23 Jul 2019</div>
<div class="t" style="left:19.3px;top:25px;font-size:9.8px;color:#000;font-weight:400;-webkit-text-stroke:0.2px #000;transform:scaleX(0.9832);">USDCNH-,Daily</div>
<div class="t" style="left:94.1px;top:25px;font-size:9.8px;color:#000;font-weight:400;-webkit-text-stroke:0.2px #000;transform:scaleX(0.9391);">7.08438 7.10145 7.06185 7.06913</div>
<div class="t" style="left:8px;top:672px;font-size:9.8px;color:#000;font-weight:400;-webkit-text-stroke:0.2px #000;transform:scaleX(0.9329);">RSI(14)</div>
<div class="t" style="left:43px;top:672px;font-size:9.8px;color:#000;font-weight:400;-webkit-text-stroke:0.2px #000;transform:scaleX(0.9175);">68.8578</div>

<div class="abs" style="left:0;top:819px;width:1458px;height:1px;background:#e3e3e3"></div>
<div class="abs" style="left:0;top:821px;width:1458px;height:1px;background:#000"></div>
<div class="abs" style="left:0;top:822px;width:1458px;height:1px;background:#fff"></div>
<div class="abs" style="left:0;top:823px;width:1458px;height:17px;background:#f0f0f0"></div>
<div class="abs" style="left:0;top:822px;width:1px;height:18px;background:#696969"></div>
<div class="abs" style="left:436px;top:822px;width:1px;height:18px;background:#fff"></div>
<div class="abs" style="left:437px;top:821px;width:110px;height:18px;background:#fff;border:1px solid #000;border-top:none"></div>
<div class="abs" style="left:113px;top:824px;width:1px;height:14px;background:#505050"></div>
<div class="abs" style="left:220px;top:824px;width:1px;height:14px;background:#505050"></div>
<div class="abs" style="left:328px;top:824px;width:1px;height:14px;background:#505050"></div>
<div class="abs" style="left:666px;top:824px;width:1px;height:14px;background:#505050"></div>
<div class="abs" style="left:794px;top:824px;width:1px;height:14px;background:#505050"></div>
<div class="abs" style="left:889px;top:824px;width:1px;height:14px;background:#505050"></div>
<div class="abs" style="left:969px;top:824px;width:1px;height:14px;background:#505050"></div>
<div class="abs" style="left:1073px;top:824px;width:1px;height:14px;background:#505050"></div>
<div class="t" style="left:15.2px;top:823.6px;font-size:12.6px;transform:scaleX(0.9598);color:#6e6e78;line-height:16px;height:16px">EURUSD-,Daily</div>
<div class="t" style="left:123px;top:823.6px;font-size:12.6px;transform:scaleX(0.9789);color:#6e6e78;line-height:16px;height:16px">AUDUSD-,Daily</div>
<div class="t" style="left:232px;top:823.6px;font-size:12.6px;transform:scaleX(0.9585);color:#6e6e78;line-height:16px;height:16px">USDCHF-,Daily</div>
<div class="t" style="left:339px;top:823.6px;font-size:12.6px;transform:scaleX(0.9677);color:#6e6e78;line-height:16px;height:16px">USDCAD-,Daily</div>
<div class="t" style="left:448.8px;top:823.6px;font-size:12.6px;transform:scaleX(0.9848);color:#000;line-height:16px;height:16px">USDCNH-,Daily</div>
<div class="t" style="left:558px;top:823.6px;font-size:12.6px;transform:scaleX(0.9681);color:#6e6e78;line-height:16px;height:16px">EURCHF-,Weekly</div>
<div class="t" style="left:680px;top:823.6px;font-size:12.6px;transform:scaleX(0.9926);color:#6e6e78;line-height:16px;height:16px">XAUUSD-,Weekly</div>
<div class="t" style="left:804px;top:823.6px;font-size:12.6px;transform:scaleX(0.9482);color:#6e6e78;line-height:16px;height:16px">GBPUSD-,H1</div>
<div class="t" style="left:899px;top:823.6px;font-size:12.6px;transform:scaleX(1.0232);color:#6e6e78;line-height:16px;height:16px">UKOil-,H4</div>
<div class="t" style="left:978px;top:823.6px;font-size:12.6px;transform:scaleX(1.0030);color:#6e6e78;line-height:16px;height:16px">USDX-,Weekly</div>
<svg class="abs" style="left:1435px;top:827px" width="4" height="7" shape-rendering="crispEdges"><path d="M3 0h1v7h-1zM2 1h1v5h-1zM1 2h1v3h-1zM0 3h1v1h-1z" fill="#9a9a9a"/></svg>
<svg class="abs" style="left:1454px;top:827px" width="4" height="7" shape-rendering="crispEdges"><path d="M0 0h1v7h-1zM1 1h1v5h-1zM2 2h1v3h-1zM3 3h1v1h-1z" fill="#9a9a9a"/></svg>

</body></html>
